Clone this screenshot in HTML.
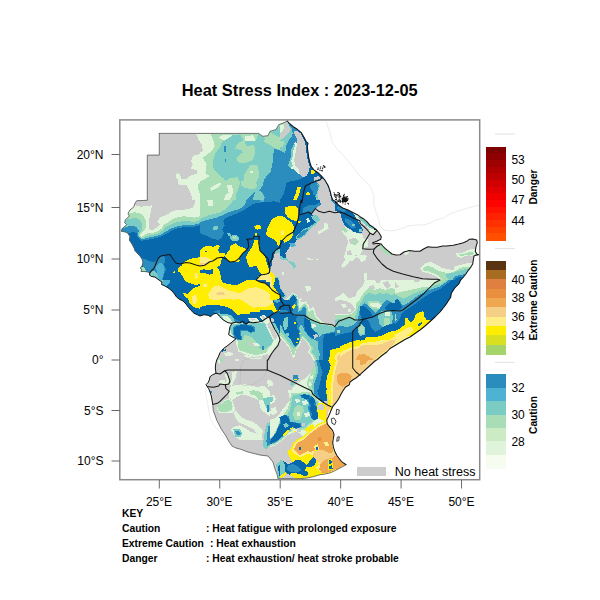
<!DOCTYPE html>
<html><head><meta charset="utf-8"><title>Heat Stress Index</title>
<style>
html,body{margin:0;padding:0;background:#fff;}
body{width:600px;height:600px;position:relative;overflow:hidden;font-family:"Liberation Sans",sans-serif;color:#000;}
</style></head><body>
<svg width="600" height="600" viewBox="0 0 600 600" style="position:absolute;left:0;top:0">
<defs><clipPath id="fr"><rect x="120" y="120" width="360" height="360"/></clipPath></defs>
<g clip-path="url(#fr)"><defs><clipPath id="land"><polygon points="159.3,133.4 258.7,133.4 262.7,136.3 268.0,135.7 270.0,131.3 276.0,129.6 278.7,124.7 284.0,122.7 287.3,121.0 290.0,124.0 293.3,126.7 297.3,129.3 301.3,132.7 304.0,137.3 306.0,141.3 308.0,143.3 307.3,146.7 308.0,152.0 308.7,157.3 310.0,162.7 311.3,166.7 314.0,170.0 318.7,173.3 322.0,176.7 325.3,180.7 328.0,185.3 330.0,190.7 331.3,196.0 332.7,200.0 335.3,201.3 338.7,205.3 342.7,208.0 348.0,210.0 353.3,212.7 357.3,214.7 360.0,216.7 363.3,218.7 366.7,221.3 370.0,225.3 373.3,227.3 376.7,230.0 379.3,233.3 381.3,236.7 380.7,239.3 376.7,241.3 372.7,242.7 373.3,244.0 377.3,243.3 381.3,244.0 382.7,246.0 385.3,248.7 388.7,251.3 392.0,254.0 396.0,255.0 400.0,254.7 404.0,252.0 409.3,250.4 414.7,251.3 420.0,251.3 424.0,248.7 428.0,246.7 432.0,247.3 437.3,247.3 442.7,246.0 446.7,246.0 453.3,245.3 458.7,244.0 463.3,242.7 466.7,241.3 469.3,239.3 472.7,238.9 476.7,240.0 477.3,242.7 476.0,246.7 475.3,251.3 476.7,254.0 478.7,254.7 476.0,255.3 474.0,256.0 473.3,260.0 472.7,264.0 470.7,267.3 468.0,270.7 465.3,274.7 462.7,278.0 460.7,280.0 458.7,284.0 454.7,288.0 451.3,293.3 450.7,297.3 448.0,301.3 447.0,303.0 444.0,307.0 440.0,312.0 435.0,317.0 430.0,321.5 425.0,326.0 420.0,330.0 415.0,333.5 410.0,337.0 405.0,339.5 400.0,342.5 395.0,345.5 390.0,348.5 386.7,352.0 381.3,356.0 377.3,359.5 375.0,361.0 360.0,374.7 356.0,378.0 352.7,380.0 350.0,382.0 349.3,384.7 345.3,387.3 342.7,391.3 340.7,394.7 338.7,398.7 336.0,402.7 332.7,406.7 330.7,411.3 328.7,416.0 326.7,420.0 327.3,424.0 330.0,427.3 332.7,430.7 334.0,434.7 333.3,438.7 332.7,442.7 333.3,446.7 334.7,451.3 336.7,455.3 339.3,458.7 341.3,461.3 344.0,463.3 346.0,464.7 342.7,466.7 338.7,468.7 334.7,470.7 330.7,472.7 325.3,474.0 320.0,474.7 313.3,476.7 306.7,478.0 300.0,478.7 294.7,478.7 288.0,478.7 278.0,478.7 277.0,474.0 275.0,469.0 273.0,462.0 268.0,456.0 260.0,455.0 248.0,452.0 240.0,449.0 236.0,448.0 232.0,446.0 228.0,440.0 226.0,436.0 223.3,432.0 220.7,428.0 218.7,424.0 216.7,420.0 215.3,416.0 213.3,410.7 212.7,404.0 212.0,400.0 211.3,396.0 210.0,392.0 208.7,388.7 207.3,386.7 206.0,384.7 208.0,382.7 209.3,380.0 210.0,376.7 212.7,374.7 216.0,373.3 215.3,368.0 215.7,364.0 216.7,360.0 218.7,356.0 220.0,352.7 223.3,348.7 228.0,345.3 232.0,342.0 236.0,338.7 232.0,336.7 228.7,334.7 229.3,330.7 230.0,326.7 232.0,323.3 228.0,322.7 223.3,320.0 220.0,316.7 216.7,313.3 213.3,314.0 210.7,316.7 208.0,315.3 204.0,314.7 200.0,316.0 197.3,314.7 194.0,313.3 190.7,310.0 188.5,307.5 186.0,304.0 183.0,301.0 179.0,299.0 176.5,297.0 174.5,294.0 172.0,291.0 169.0,288.5 165.0,286.0 161.5,284.5 162.0,282.0 159.0,280.0 155.0,277.0 151.5,276.5 149.5,275.0 150.0,272.5 145.0,271.5 141.0,271.5 141.5,269.5 140.5,268.0 142.5,265.0 143.0,262.0 142.0,259.0 140.0,256.0 137.0,253.0 134.5,250.0 134.7,249.3 132.0,244.0 129.3,240.0 130.0,236.7 128.0,233.3 125.3,232.0 121.3,231.3 122.0,228.7 126.7,224.7 124.7,222.7 125.3,220.0 129.3,216.0 128.0,213.3 130.0,210.0 134.0,206.7 134.7,204.0 136.7,200.7 147.3,200.3 147.3,155.1 159.3,155.1"/></clipPath><clipPath id="t0"><rect x="120" y="120" width="80" height="80"/></clipPath><clipPath id="t1"><rect x="200" y="120" width="80" height="80"/></clipPath><clipPath id="t2"><rect x="280" y="120" width="80" height="80"/></clipPath><clipPath id="t3"><rect x="120" y="200" width="80" height="80"/></clipPath><clipPath id="t4"><rect x="200" y="200" width="80" height="80"/></clipPath><clipPath id="t5"><rect x="280" y="200" width="80" height="80"/></clipPath><clipPath id="t6"><rect x="360" y="200" width="80" height="80"/></clipPath><clipPath id="t7"><rect x="400" y="200" width="80" height="80"/></clipPath><clipPath id="t8"><rect x="120" y="280" width="80" height="80"/></clipPath><clipPath id="t9"><rect x="200" y="280" width="80" height="80"/></clipPath><clipPath id="t10"><rect x="280" y="280" width="80" height="80"/></clipPath><clipPath id="t11"><rect x="360" y="280" width="80" height="80"/></clipPath><clipPath id="t12"><rect x="440" y="280" width="40" height="80"/></clipPath><clipPath id="t13"><rect x="200" y="360" width="80" height="80"/></clipPath><clipPath id="t14"><rect x="280" y="360" width="80" height="80"/></clipPath><clipPath id="t15"><rect x="360" y="360" width="80" height="80"/></clipPath><clipPath id="t16"><rect x="280" y="420" width="80" height="60"/></clipPath><clipPath id="t17"><rect x="200" y="440" width="80" height="40"/></clipPath><clipPath id="t18"><rect x="270" y="260" width="60" height="40"/></clipPath><clipPath id="t19"><rect x="280" y="300" width="60" height="60"/></clipPath><clipPath id="t20"><rect x="270" y="390" width="60" height="60"/></clipPath><clipPath id="t21"><rect x="220" y="310" width="60" height="60"/></clipPath><clipPath id="t22"><rect x="335" y="195" width="60" height="60"/></clipPath><clipPath id="t23"><rect x="335" y="280" width="60" height="60"/></clipPath></defs><polygon points="159.3,133.4 258.7,133.4 262.7,136.3 268.0,135.7 270.0,131.3 276.0,129.6 278.7,124.7 284.0,122.7 287.3,121.0 290.0,124.0 293.3,126.7 297.3,129.3 301.3,132.7 304.0,137.3 306.0,141.3 308.0,143.3 307.3,146.7 308.0,152.0 308.7,157.3 310.0,162.7 311.3,166.7 314.0,170.0 318.7,173.3 322.0,176.7 325.3,180.7 328.0,185.3 330.0,190.7 331.3,196.0 332.7,200.0 335.3,201.3 338.7,205.3 342.7,208.0 348.0,210.0 353.3,212.7 357.3,214.7 360.0,216.7 363.3,218.7 366.7,221.3 370.0,225.3 373.3,227.3 376.7,230.0 379.3,233.3 381.3,236.7 380.7,239.3 376.7,241.3 372.7,242.7 373.3,244.0 377.3,243.3 381.3,244.0 382.7,246.0 385.3,248.7 388.7,251.3 392.0,254.0 396.0,255.0 400.0,254.7 404.0,252.0 409.3,250.4 414.7,251.3 420.0,251.3 424.0,248.7 428.0,246.7 432.0,247.3 437.3,247.3 442.7,246.0 446.7,246.0 453.3,245.3 458.7,244.0 463.3,242.7 466.7,241.3 469.3,239.3 472.7,238.9 476.7,240.0 477.3,242.7 476.0,246.7 475.3,251.3 476.7,254.0 478.7,254.7 476.0,255.3 474.0,256.0 473.3,260.0 472.7,264.0 470.7,267.3 468.0,270.7 465.3,274.7 462.7,278.0 460.7,280.0 458.7,284.0 454.7,288.0 451.3,293.3 450.7,297.3 448.0,301.3 447.0,303.0 444.0,307.0 440.0,312.0 435.0,317.0 430.0,321.5 425.0,326.0 420.0,330.0 415.0,333.5 410.0,337.0 405.0,339.5 400.0,342.5 395.0,345.5 390.0,348.5 386.7,352.0 381.3,356.0 377.3,359.5 375.0,361.0 360.0,374.7 356.0,378.0 352.7,380.0 350.0,382.0 349.3,384.7 345.3,387.3 342.7,391.3 340.7,394.7 338.7,398.7 336.0,402.7 332.7,406.7 330.7,411.3 328.7,416.0 326.7,420.0 327.3,424.0 330.0,427.3 332.7,430.7 334.0,434.7 333.3,438.7 332.7,442.7 333.3,446.7 334.7,451.3 336.7,455.3 339.3,458.7 341.3,461.3 344.0,463.3 346.0,464.7 342.7,466.7 338.7,468.7 334.7,470.7 330.7,472.7 325.3,474.0 320.0,474.7 313.3,476.7 306.7,478.0 300.0,478.7 294.7,478.7 288.0,478.7 278.0,478.7 277.0,474.0 275.0,469.0 273.0,462.0 268.0,456.0 260.0,455.0 248.0,452.0 240.0,449.0 236.0,448.0 232.0,446.0 228.0,440.0 226.0,436.0 223.3,432.0 220.7,428.0 218.7,424.0 216.7,420.0 215.3,416.0 213.3,410.7 212.7,404.0 212.0,400.0 211.3,396.0 210.0,392.0 208.7,388.7 207.3,386.7 206.0,384.7 208.0,382.7 209.3,380.0 210.0,376.7 212.7,374.7 216.0,373.3 215.3,368.0 215.7,364.0 216.7,360.0 218.7,356.0 220.0,352.7 223.3,348.7 228.0,345.3 232.0,342.0 236.0,338.7 232.0,336.7 228.7,334.7 229.3,330.7 230.0,326.7 232.0,323.3 228.0,322.7 223.3,320.0 220.0,316.7 216.7,313.3 213.3,314.0 210.7,316.7 208.0,315.3 204.0,314.7 200.0,316.0 197.3,314.7 194.0,313.3 190.7,310.0 188.5,307.5 186.0,304.0 183.0,301.0 179.0,299.0 176.5,297.0 174.5,294.0 172.0,291.0 169.0,288.5 165.0,286.0 161.5,284.5 162.0,282.0 159.0,280.0 155.0,277.0 151.5,276.5 149.5,275.0 150.0,272.5 145.0,271.5 141.0,271.5 141.5,269.5 140.5,268.0 142.5,265.0 143.0,262.0 142.0,259.0 140.0,256.0 137.0,253.0 134.5,250.0 134.7,249.3 132.0,244.0 129.3,240.0 130.0,236.7 128.0,233.3 125.3,232.0 121.3,231.3 122.0,228.7 126.7,224.7 124.7,222.7 125.3,220.0 129.3,216.0 128.0,213.3 130.0,210.0 134.0,206.7 134.7,204.0 136.7,200.7 147.3,200.3 147.3,155.1 159.3,155.1" fill="#cccccc" /><g clip-path="url(#land)"><g clip-path="url(#t0)" shape-rendering="crispEdges"><polygon points="196.0,133.3 200.0,133.3 200.0,142.0 198.7,140.0" fill="#e0f3db" /><polygon points="200.0,154.0 194.7,155.3 192.0,158.0 191.3,161.3 192.7,164.7 190.7,168.7 196.7,170.0 197.1,173.3 189.3,176.0 186.7,178.7 181.3,178.7 180.0,174.0 176.7,173.3 176.0,176.7 178.0,180.0 178.7,185.3 186.7,185.3 189.3,190.7 191.3,194.7 192.0,200.0 200.0,200.0" fill="#e0f3db" /><polygon points="198.0,184.0 200.0,182.7 200.0,193.3 198.7,192.7" fill="#a8ddb5" /></g><g clip-path="url(#t1)" shape-rendering="crispEdges"><rect x="200" y="120" width="80" height="80" fill="#a8ddb5"/><polygon points="200.0,133.3 210.7,133.3 212.7,138.7 214.7,145.3 212.0,150.7 206.7,154.7 202.7,158.0 206.7,164.0 205.3,173.3 209.3,176.0 205.3,178.7 200.0,181.3" fill="#e0f3db" /><polygon points="200.0,143.3 202.0,144.0 202.7,150.7 200.0,152.7" fill="#cccccc" /><polygon points="218.7,137.3 223.3,134.7 232.0,135.3 230.7,138.7 222.7,140.0" fill="#e0f3db" /><polygon points="245.3,136.0 253.3,135.3 255.3,140.0 252.7,144.0 246.7,146.7 244.7,142.7" fill="#e0f3db" /><polygon points="210.0,188.0 214.7,185.3 220.0,182.7 221.3,184.7 216.0,188.7 211.3,190.7" fill="#e0f3db" /><polygon points="226.7,185.3 232.0,184.7 233.3,192.0 231.3,197.3 229.3,200.0 224.0,200.0 225.3,194.7 228.7,192.7" fill="#e0f3db" /><polygon points="220.0,147.3 222.0,142.0 226.0,139.7 232.7,135.3 240.0,134.4 242.9,138.7 244.7,141.3 256.0,141.3 257.3,136.0 258.9,133.7 262.7,136.7 265.3,138.7 264.0,142.0 269.3,144.7 274.7,148.0 280.0,150.0 280.0,200.0 236.0,200.0 236.0,194.7 238.7,188.0 240.0,182.7 238.0,177.3 233.3,177.6 228.7,178.7 225.3,181.3 224.0,178.7 220.0,176.0 216.0,172.0 212.7,166.7 213.3,160.0 215.3,153.3" fill="#7bccc4" /><polygon points="270.0,132.7 276.0,130.0 280.0,125.3 280.0,138.0 274.7,134.7 271.3,136.7" fill="#7bccc4" /><polygon points="236.0,145.3 240.0,142.0 244.0,140.0 246.7,146.7 253.3,144.7 255.3,148.0 255.3,153.3 252.7,160.0 246.7,162.7 239.3,162.7 236.0,158.7 238.7,155.3 242.7,152.7 241.3,150.0 235.3,148.7" fill="#a8ddb5" /><polygon points="250.0,165.3 257.3,164.7 258.7,170.7 258.7,177.3 256.0,182.7 257.3,186.7 253.3,189.3 245.3,188.0 240.7,185.3 241.3,181.3 244.7,179.3 243.3,176.0 246.0,172.0" fill="#a8ddb5" /><polygon points="250.0,171.3 252.7,171.3 252.7,173.1 250.0,173.1" fill="#e0f3db" /><polygon points="265.3,138.0 270.0,132.7 274.7,134.7 280.0,137.3 280.0,143.3 276.0,144.7 274.7,147.3 269.3,144.7 264.0,142.0" fill="#a8ddb5" /><polygon points="274.7,148.7 280.0,150.7 280.0,200.0 264.0,200.0 264.7,197.3 262.7,192.7 258.7,190.0 260.0,189.3 262.7,185.3 264.0,180.0 266.7,176.0 270.7,172.0 272.0,165.3 273.3,160.0 273.3,153.3" fill="#2b8cbe" /><polygon points="246.7,200.0 249.3,196.7 253.3,193.3 256.0,191.3 254.0,194.7 252.7,200.0" fill="#2b8cbe" /><polygon points="224.4,146.0 225.6,146.0 225.6,152.0 224.4,152.0" fill="#2b8cbe" /><polygon points="224.8,158.9 225.9,158.9 225.9,162.0 224.8,162.0" fill="#2b8cbe" /></g><g clip-path="url(#t2)" shape-rendering="crispEdges"><rect x="280" y="120" width="80" height="80" fill="#2b8cbe"/><polygon points="280.0,120.0 288.0,120.0 285.3,126.0 284.0,129.3 282.7,132.7 280.0,134.7" fill="#a8ddb5" /><polygon points="280.0,125.3 283.3,124.0 284.0,128.0 282.0,132.0 280.0,132.7" fill="#e0f3db" /><polygon points="284.0,123.3 287.3,122.0 289.3,125.3 290.7,130.0 288.7,133.3 286.7,135.3 282.7,138.7 280.0,140.0 280.0,134.7 282.7,132.7 284.0,129.3 285.3,126.0" fill="#cccccc" /><polygon points="280.0,140.0 282.7,138.7 286.7,135.3 288.7,133.3 290.7,130.0 289.3,126.0 292.0,128.0 292.7,133.3 291.3,137.3 288.0,141.3 286.0,146.7 285.3,153.3 282.7,152.0 280.0,150.7" fill="#7bccc4" /><polygon points="280.0,141.3 283.3,140.7 284.7,143.3 282.7,146.7 280.0,147.3" fill="#a8ddb5" /><polygon points="294.0,130.7 297.3,131.3 301.3,134.0 303.3,138.0 305.3,142.0 306.0,146.7 306.7,152.0 307.3,157.3 308.7,162.7 310.0,166.7 308.7,171.3 306.7,176.0 303.3,177.3 300.0,174.7 298.7,169.3 295.3,165.3 294.0,160.0 295.3,154.7 296.0,149.3 297.3,144.0 296.7,138.7 294.7,134.7" fill="#cccccc" /><polygon points="297.3,144.0 296.0,149.3 295.3,154.7 294.0,160.0 295.3,165.3 298.7,169.3 300.0,174.7 297.3,173.3 293.3,169.3 290.0,168.0 288.0,165.3 290.0,160.0 291.3,154.7 290.7,150.7 292.7,146.7 294.0,143.3 295.7,142.4" fill="#e0f3db" /><polygon points="292.7,146.7 294.0,143.7 294.9,144.7 294.7,146.7 293.3,150.7 292.7,156.0 291.3,161.3 292.7,166.0 290.0,168.0 288.0,165.3 290.0,160.0 291.3,154.7 290.7,150.7" fill="#7bccc4" /><polygon points="301.3,132.7 304.0,137.3 306.0,141.3 308.0,143.3 307.3,146.7 308.0,152.0 308.7,157.3 310.0,162.7 312.0,166.7 310.0,166.9 308.4,162.7 307.1,157.3 306.4,152.0 305.7,146.7 305.1,142.0 303.1,138.0 301.1,134.0" fill="#0868ac" /><polygon points="280.0,200.0 282.0,197.3 284.0,192.9 286.9,182.0 294.0,180.9 300.0,179.3 303.3,177.3 306.7,176.0 308.7,171.3 310.0,166.7 312.0,166.7 314.0,170.0 318.7,173.3 322.0,176.7 320.0,179.3 316.0,180.7 311.3,183.3 310.0,186.7 312.0,190.7 314.7,194.7 317.3,200.0 280.0,200.0" fill="#0868ac" /><polygon points="316.0,181.3 320.0,179.7 323.3,178.7 326.0,182.7 328.0,186.7 329.6,192.0 330.9,197.3 331.3,200.0 318.7,200.0 317.3,194.7 318.7,189.3 320.0,185.3 318.0,183.3" fill="#cccccc" /><polygon points="313.3,177.6 318.7,176.0 320.7,178.7 316.7,180.0 314.0,180.7" fill="#cccccc" /><polygon points="312.0,185.3 316.7,184.0 318.7,186.7 317.3,192.0 316.0,196.0 313.3,194.7 312.0,189.3" fill="#2b8cbe" /><polygon points="316.7,184.0 320.0,185.3 318.7,189.3 317.3,194.7 318.7,200.0 316.0,200.0 315.3,196.0 317.3,192.0 318.7,186.7" fill="#7bccc4" /><polygon points="322.0,176.7 325.3,180.7 328.0,185.3 330.0,190.7 331.3,196.0 332.7,200.0 331.3,200.0 329.6,192.0 328.0,186.7 326.0,182.7 323.3,178.7" fill="#2b8cbe" /><polygon points="310.9,170.4 314.0,170.4 314.9,172.3 313.1,174.4 310.9,173.6" fill="#ffee00" /><polygon points="297.3,187.3 300.7,187.3 300.0,192.0 298.0,196.7 296.7,200.0 293.3,200.0 294.0,197.3 295.7,193.3" fill="#ffee00" /><polygon points="306.0,192.7 309.3,192.0 310.0,194.7 306.7,195.7" fill="#ffee00" /></g><g clip-path="url(#t3)" shape-rendering="crispEdges"><polygon points="133.3,202.7 136.7,206.0 141.3,206.7 148.7,206.0 152.0,205.3 151.3,209.3 150.0,216.0 148.7,222.7 148.7,228.7 152.0,230.7 156.0,228.0 160.0,224.7 157.3,221.3 160.0,217.3 166.7,214.7 173.3,210.7 180.0,210.0 186.7,209.3 192.7,208.0 194.7,204.0 195.3,200.0 200.0,200.0 200.0,280.0 120.0,280.0 120.0,206.7" fill="#e0f3db" /><polygon points="120.0,214.7 128.0,213.3 134.7,212.3 138.7,212.9 142.7,214.9 145.3,218.9 146.0,224.3 145.3,229.6 142.7,232.3 140.0,234.9 141.3,236.9 144.0,235.6 146.7,233.6 152.0,232.9 157.3,231.6 161.3,228.9 164.0,224.3 169.3,221.6 173.3,218.9 178.7,216.9 184.0,216.3 189.3,216.9 194.7,217.6 200.0,216.3 200.0,280.0 120.0,280.0" fill="#a8ddb5" /><polygon points="120.0,221.3 125.3,220.0 130.7,218.7 136.0,218.0 140.0,220.0 142.0,224.0 142.0,228.7 140.0,232.7 138.7,236.7 142.0,238.7 146.7,236.0 153.3,234.7 158.7,233.3 162.7,230.7 166.0,226.7 172.0,224.0 177.3,222.0 182.7,221.3 189.3,221.3 194.7,222.0 200.0,220.0 200.0,280.0 120.0,280.0" fill="#7bccc4" /><polygon points="120.0,229.3 122.0,228.7 126.7,226.7 132.0,226.0 136.0,226.7 138.7,230.7 138.0,236.0 141.3,239.3 146.7,238.0 153.3,236.7 160.0,234.9 165.3,232.0 170.7,228.7 176.0,226.7 182.7,225.3 189.3,225.3 194.7,224.7 200.0,223.3 200.0,280.0 120.0,280.0" fill="#2b8cbe" /><polygon points="120.0,234.7 128.0,233.3 133.3,232.0 136.7,233.3 137.3,237.3 141.3,240.7 146.7,240.0 153.3,238.7 160.0,237.1 165.3,234.4 170.7,231.3 176.0,228.7 182.7,227.3 189.3,227.3 194.7,226.7 200.0,225.3 200.0,280.0 120.0,280.0" fill="#0868ac" /><polygon points="140.0,257.3 144.0,258.7 148.7,261.1 154.0,262.0 158.0,258.7 155.3,264.0 152.7,269.3 150.0,272.7 142.0,271.6 141.3,269.3 143.3,266.7 142.7,262.7" fill="#2b8cbe" /><polygon points="140.7,267.3 144.0,266.7 146.7,272.0 141.3,271.6" fill="#a8ddb5" /><polygon points="150.0,272.7 152.7,269.3 155.3,264.0 158.0,258.7 160.7,256.0 164.0,255.7 165.3,260.0 164.0,265.3 166.0,269.3 164.0,274.7 162.7,280.0 152.0,280.0 149.3,276.0" fill="#2b8cbe" /><polygon points="156.0,266.7 160.0,262.7 162.7,264.0 164.7,269.3 163.3,274.7 162.0,280.0 158.0,280.0 157.3,274.7" fill="#4eb3d3" /><polygon points="150.0,273.1 153.3,270.7 156.0,272.0 158.0,276.0 159.3,280.0 152.0,280.0 149.3,276.3" fill="#7bccc4" /><polygon points="182.7,263.3 186.7,260.7 190.7,258.7 194.7,258.0 200.0,257.3 200.0,280.0 184.0,280.0 182.7,276.0 180.0,272.7 177.3,271.3 178.7,267.3 181.3,266.0" fill="#ffee00" /><polygon points="172.7,272.0 174.7,271.3 174.9,273.1 173.1,273.6" fill="#ffee00" /><polygon points="194.7,273.3 197.3,272.7 198.0,277.3 195.3,278.7" fill="#ffee88" /></g><g clip-path="url(#t4)" shape-rendering="crispEdges"><rect x="200" y="200" width="80" height="80" fill="#0868ac"/><polygon points="200.0,200.0 280.0,200.0 280.0,202.7 274.7,201.3 266.7,202.0 258.7,202.7 253.3,204.0 248.7,206.7 244.0,210.0 237.3,213.3 230.7,216.0 225.3,218.0 223.3,221.3 224.7,225.3 222.0,229.3 224.0,233.3 222.0,237.3 218.7,240.0 212.0,238.7 205.3,235.3 200.0,233.3" fill="#2b8cbe" /><polygon points="200.0,200.0 246.0,200.0 245.3,204.0 242.7,207.3 238.7,209.3 233.3,210.7 228.0,212.7 222.7,215.3 217.3,217.3 212.0,218.7 206.7,220.0 202.7,221.3 200.0,222.0" fill="#7bccc4" /><polygon points="200.0,200.0 233.3,200.0 230.7,204.0 226.7,208.0 221.3,212.0 214.7,214.0 208.0,215.3 204.0,217.3 200.0,218.7" fill="#a8ddb5" /><polygon points="207.3,200.0 213.3,200.0 213.3,206.0 208.0,206.0" fill="#e0f3db" /><polygon points="260.0,200.0 264.7,200.0 264.0,201.6 260.7,201.6" fill="#4eb3d3" /><polygon points="212.7,226.7 217.3,226.0 218.7,229.3 213.3,230.0" fill="#7bccc4" /><polygon points="227.3,233.3 230.0,232.7 231.3,235.3 228.7,236.0" fill="#7bccc4" /><polygon points="230.0,236.0 236.0,234.7 239.3,238.0 238.0,240.7 232.0,240.7 230.0,238.7" fill="#7bccc4" /><polygon points="232.0,236.7 235.3,236.0 236.7,238.7 233.3,239.3" fill="#a8ddb5" /><polygon points="280.0,249.3 276.7,251.3 274.0,254.7 273.3,259.3 272.0,263.3 271.3,268.0 272.7,272.7 275.3,276.7 280.0,278.7" fill="#cccccc" /><polygon points="274.7,250.7 280.0,248.3 280.0,253.3 276.0,253.6" fill="#7bccc4" /><polygon points="272.7,218.7 276.0,216.7 280.0,216.0 280.0,245.3 278.0,246.0 276.0,241.3 272.7,238.7 268.7,236.7 266.0,234.7 266.7,230.7 268.0,226.7 270.0,222.7" fill="#ffee00" /><polygon points="254.4,226.0 257.3,225.3 260.7,225.6 260.7,228.7 257.3,229.6 254.7,229.1" fill="#ffee00" /><polygon points="255.3,233.3 257.3,233.3 257.3,236.0 255.3,236.0" fill="#ffee00" /><polygon points="230.0,246.0 235.3,243.3 238.7,246.0 244.0,248.0 247.3,250.0 242.7,253.3 238.7,258.7 240.0,261.3 235.3,262.0 230.0,262.4 227.3,259.3 224.7,256.0 227.3,252.7 230.0,250.0" fill="#ffee00" /><polygon points="254.0,240.0 258.7,240.0 259.3,244.0 260.3,250.7 264.0,254.7 266.0,258.7 266.7,262.7 269.3,270.7 269.3,272.7 266.7,274.0 262.7,274.7 260.0,272.7 258.0,269.3 256.0,265.3 252.7,266.7 249.3,267.3 247.3,262.7 246.0,257.3 248.0,252.7 251.3,248.0 253.3,244.0" fill="#ffee00" /><polygon points="200.0,250.0 204.0,246.7 208.0,246.0 213.3,246.7 216.7,245.3 218.7,244.7 220.0,246.7 217.3,250.0 220.0,253.3 224.7,252.7 225.3,256.0 222.0,257.6 221.3,261.3 220.0,265.3 216.0,267.3 212.0,269.3 208.0,270.0 204.0,269.3 200.0,270.0" fill="#ffee00" /><polygon points="200.0,272.7 205.3,273.3 209.3,274.7 213.3,274.0 213.3,268.0 217.3,267.3 220.0,272.0 221.3,280.0 200.0,280.0" fill="#ffee00" /><polygon points="205.3,250.7 207.3,250.7 207.3,252.3 205.3,252.3" fill="#0868ac" /><polygon points="200.0,257.3 205.3,256.7 209.3,258.7 213.3,260.3 209.3,262.0 204.7,265.3 200.0,266.0" fill="#ffee88" /><polygon points="200.0,262.7 204.0,262.7 206.7,264.0 204.0,266.0 200.0,266.7" fill="#f5cf85" /><polygon points="258.7,276.0 264.0,274.7 269.3,273.3 272.7,276.7 274.7,280.0 256.7,280.0" fill="#ffee88" /></g><g clip-path="url(#t5)" shape-rendering="crispEdges"><polygon points="280.0,200.0 320.0,200.0 320.7,204.0 318.0,206.0 315.3,208.7 312.0,213.3 313.3,217.3 316.7,218.7 318.0,221.3 313.3,224.0 310.0,226.7 306.7,228.0 303.3,229.3 300.0,232.0 296.0,236.0 296.7,240.0 294.0,244.0 290.7,246.0 288.0,249.3 285.3,253.3 286.0,257.3 284.0,258.7 281.3,256.0 280.0,256.7" fill="#0868ac" /><polygon points="303.3,208.0 308.7,205.3 314.7,205.3 320.0,202.7 320.7,204.7 315.3,208.7 311.3,214.0 308.7,212.3 304.7,213.6 302.7,212.0" fill="#2b8cbe" /><polygon points="300.0,232.0 303.3,229.3 306.7,228.0 310.0,226.7 313.3,224.0 318.0,221.3 316.0,224.7 312.0,227.3 308.7,230.7 306.0,234.7 302.0,237.3 298.7,240.0 296.7,240.0 296.0,236.0" fill="#7bccc4" /><polygon points="300.0,232.7 303.3,230.4 306.7,229.1 308.7,228.7 307.3,231.3 304.7,234.4 301.3,236.7 298.0,238.7 297.1,236.7" fill="#2b8cbe" /><polygon points="306.0,218.7 308.7,218.0 310.0,221.3 307.3,222.7" fill="#e0f3db" /><polygon points="311.3,216.0 316.0,214.7 318.7,217.3 320.0,220.7 316.0,222.0 312.7,220.0" fill="#7bccc4" /><polygon points="280.0,256.7 281.3,256.0 284.0,258.7 286.0,257.3 288.0,259.3 292.0,261.3 293.3,264.0 296.7,264.0 296.0,266.7 292.7,266.0 289.3,262.7 285.3,260.7 282.7,260.0 280.0,258.7" fill="#7bccc4" /><polygon points="280.7,272.0 283.3,272.0 283.3,274.7 280.7,274.7" fill="#e0f3db" /><polygon points="289.3,243.3 294.7,242.7 296.0,246.0 291.3,247.3" fill="#4eb3d3" /><polygon points="285.3,206.7 296.0,206.0 298.0,209.3 298.0,220.0 296.0,221.3 292.0,220.0 288.0,217.3 284.7,213.3" fill="#ffee00" /><polygon points="280.0,216.0 284.0,216.7 288.0,220.0 292.0,222.7 294.0,226.7 293.3,231.3 289.3,234.0 285.3,237.3 282.7,240.0 280.0,240.0" fill="#ffee00" /><polygon points="286.7,236.0 292.0,232.7 293.3,234.7 291.3,238.0 288.0,241.3 284.0,242.7 283.3,240.0" fill="#ffee00" /><polygon points="297.3,220.7 301.3,221.3 298.7,223.3" fill="#ffee00" /><polygon points="281.3,230.7 283.3,230.0 284.0,234.7 281.3,235.3" fill="#ffee88" /><polygon points="340.7,208.7 342.7,208.0 348.0,210.0 353.3,212.7 357.3,214.7 360.0,216.7 360.0,230.0 356.7,231.3 352.7,230.7 349.3,228.0 346.0,225.3 343.3,220.0 344.0,214.7 342.0,212.0" fill="#0868ac" /><polygon points="346.7,220.0 350.7,218.7 354.7,221.3 356.0,226.0 352.7,228.0 348.7,225.3" fill="#2b8cbe" /><polygon points="330.0,200.0 332.7,200.0 335.3,201.3 338.7,205.3 342.7,208.0 340.7,208.7 337.3,206.7 334.0,203.3" fill="#2b8cbe" /><polygon points="349.3,236.0 354.7,234.7 360.0,236.0 360.0,244.0 357.3,245.3 360.0,248.0 360.0,258.7 356.0,257.3 352.7,260.7 349.3,261.3 346.7,265.3 342.7,268.0 341.3,265.3 345.3,260.0 344.0,256.0 346.0,250.7 346.7,245.3 349.3,241.3" fill="#e0f3db" /><polygon points="348.0,250.7 351.3,250.0 352.0,253.3 348.7,254.0" fill="#cccccc" /><polygon points="354.7,252.7 357.3,252.7 357.3,256.0 354.7,256.0" fill="#cccccc" /><polygon points="352.0,241.3 357.3,240.0 356.7,245.3 352.7,246.0" fill="#a8ddb5" /><polygon points="342.0,230.0 346.0,229.3 346.7,232.7 342.7,233.3" fill="#a8ddb5" /><polygon points="324.0,223.3 327.3,222.7 328.7,228.7 325.3,230.0 322.7,232.0 318.7,234.0 317.3,232.0 321.3,230.0 324.0,227.3" fill="#e0f3db" /><polygon points="306.7,258.0 310.7,258.7 314.7,260.0 320.0,258.0 317.3,260.7 312.0,261.6 308.7,260.7" fill="#e0f3db" /></g><g clip-path="url(#t6)" shape-rendering="crispEdges"><polygon points="360.0,217.3 363.3,218.9 366.0,221.3 366.7,225.3 364.0,226.7 360.0,224.0" fill="#2b8cbe" /><polygon points="360.0,218.0 362.7,219.3 364.7,222.0 363.3,224.0 360.0,222.7" fill="#0868ac" /><polygon points="360.0,228.0 362.0,228.7 362.7,232.0 360.0,233.3" fill="#2b8cbe" /><polygon points="366.0,221.3 370.0,225.3 373.3,227.3 376.7,230.0 374.7,231.3 371.3,230.0 368.0,227.3 366.7,225.3" fill="#7bccc4" /><polygon points="360.0,234.7 364.0,234.0 366.7,236.7 365.3,240.0 362.7,241.3 360.0,240.0" fill="#e0f3db" /><polygon points="362.7,244.0 368.0,245.3 366.7,248.7 362.7,248.3" fill="#e0f3db" /><polygon points="360.0,252.0 364.0,252.7 366.7,256.7 365.3,260.7 361.3,262.0 360.0,260.0" fill="#e0f3db" /><polygon points="364.0,273.3 366.7,273.3 366.7,280.0 364.0,280.0" fill="#e0f3db" /><polygon points="380.0,244.7 382.7,246.0 385.3,248.7 388.7,251.3 392.0,254.0 390.0,255.3 386.0,254.0 382.0,251.3 378.7,248.7 378.0,246.0" fill="#a8ddb5" /><polygon points="404.0,252.9 408.0,250.9 410.0,252.0 407.3,254.7 404.7,254.9" fill="#e0f3db" /><polygon points="421.3,268.0 425.3,264.0 430.7,262.0 434.7,264.0 440.0,266.7 440.0,276.0 436.0,274.7 430.7,272.7 425.3,272.7 422.0,271.3" fill="#e0f3db" /><polygon points="424.0,268.7 428.0,266.0 432.0,266.7 436.0,269.3 440.0,270.7 440.0,274.0 434.7,272.7 429.3,270.7 425.3,270.7" fill="#a8ddb5" /></g><g clip-path="url(#t7)" shape-rendering="crispEdges"><polygon points="420.0,268.0 424.0,264.0 428.7,262.0 433.3,263.3 437.3,266.7 442.7,268.0 448.0,269.3 453.3,270.0 454.7,266.7 458.7,265.3 464.0,264.0 468.0,262.7 474.7,264.0 468.0,270.7 465.3,274.7 462.7,278.0 460.7,280.0 441.3,280.0 437.3,277.3 432.0,274.7 426.7,272.7 422.0,271.3" fill="#e0f3db" /><polygon points="422.7,268.7 426.7,266.0 431.3,266.7 435.3,269.3 440.0,271.3 445.3,272.7 450.7,272.7 456.0,270.7 460.0,268.0 465.3,266.7 472.0,267.3 466.7,272.7 464.0,276.0 461.3,280.0 442.7,280.0 438.7,276.0 433.3,273.3 428.0,271.3 424.0,270.7" fill="#a8ddb5" /><polygon points="445.3,274.0 450.7,273.3 456.0,272.0 461.3,270.0 469.3,268.7 466.7,272.7 464.0,276.0 461.3,280.0 449.3,280.0 446.7,277.3" fill="#7bccc4" /><polygon points="452.7,278.0 456.0,276.0 461.3,274.7 466.7,274.0 462.7,278.0 460.7,280.0 453.3,280.0" fill="#2b8cbe" /><polygon points="454.7,279.3 458.7,277.3 463.3,276.7 461.3,280.0 454.7,280.0" fill="#0868ac" /><polygon points="456.0,253.3 462.7,252.7 468.0,250.0 472.0,248.7 476.0,249.3 476.0,253.3 472.7,256.0 469.3,255.3 465.3,256.0 461.3,258.0 457.3,256.7" fill="#e0f3db" /><polygon points="458.7,254.0 464.0,254.0 469.3,252.0 474.0,252.7 473.3,254.7 466.7,254.9 461.3,256.3" fill="#a8ddb5" /></g><g clip-path="url(#t8)" shape-rendering="crispEdges"><rect x="120" y="280" width="80" height="80" fill="#0868ac"/><polygon points="159.3,280.0 170.0,280.0 169.3,284.0 166.0,286.0 162.7,285.3 162.0,282.7" fill="#4eb3d3" /><polygon points="158.7,280.0 162.9,280.0 162.9,284.3 161.6,282.7" fill="#7bccc4" /><polygon points="184.0,280.0 200.0,280.0 200.0,283.3 196.7,285.3 192.0,284.0 186.7,282.0" fill="#ffee00" /><polygon points="182.7,293.3 185.3,292.7 186.7,294.7 189.3,292.0 192.7,288.7 197.3,286.7 200.0,286.0 200.0,308.7 196.0,308.0 192.0,306.0 189.3,302.7 188.0,298.7 185.3,296.7" fill="#ffee00" /><polygon points="192.0,296.0 196.0,294.7 197.3,300.0 195.3,304.7 192.7,303.3" fill="#ffee88" /></g><g clip-path="url(#t9)" shape-rendering="crispEdges"><rect x="200" y="280" width="80" height="80" fill="#0868ac"/><polygon points="232.0,324.0 240.0,322.9 246.0,324.3 253.3,322.9 262.7,320.9 269.3,316.9 280.0,320.0 280.0,360.0 216.7,360.0 220.0,352.7 228.0,345.3 236.0,338.7 228.7,334.7 230.0,326.7" fill="#cccccc" /><polygon points="213.3,311.3 218.7,310.0 224.0,310.7 229.3,312.7 233.3,315.3 234.7,320.0 232.0,323.3 228.0,322.7 223.3,320.0 220.0,316.7 216.7,313.3" fill="#2b8cbe" /><polygon points="217.3,313.3 221.3,312.7 226.7,314.7 230.7,317.3 232.0,321.3 228.7,322.4 224.0,319.7 220.7,316.3" fill="#7bccc4" /><polygon points="244.0,320.0 248.0,317.3 253.3,316.0 258.7,315.3 264.0,316.0 266.7,318.0 262.7,320.7 258.7,322.0 253.3,322.7 249.3,322.0 246.0,324.0" fill="#a8ddb5" /><polygon points="250.7,318.7 256.0,318.0 257.3,320.0 252.0,321.1" fill="#e0f3db" /><polygon points="240.0,318.0 244.7,316.0 246.0,319.3 243.3,322.0 240.0,322.4" fill="#2b8cbe" /><polygon points="200.0,280.0 221.3,280.0 222.7,282.7 228.0,284.0 236.0,285.6 242.7,282.4 246.7,280.0 256.0,280.0 260.0,282.0 265.3,283.3 269.3,286.7 272.0,290.0 273.3,293.3 272.7,297.3 273.3,302.7 274.7,306.7 276.7,310.0 272.7,311.3 266.7,310.7 261.3,310.0 256.0,312.0 250.7,311.3 248.0,314.0 242.7,312.7 238.7,314.7 236.0,313.3 233.3,310.0 229.3,308.0 224.0,306.0 218.7,305.3 213.3,304.7 208.0,305.3 202.7,306.0 200.0,307.3" fill="#ffee00" /><polygon points="276.7,310.0 280.0,309.3 280.0,312.7 277.3,312.7" fill="#ffee00" /><polygon points="208.0,294.7 210.7,290.7 213.3,286.7 218.7,285.3 224.0,288.0 229.3,290.7 234.7,292.0 240.0,293.3 244.0,290.7 249.3,288.0 256.0,287.3 262.7,289.3 269.3,293.3 272.0,297.3 272.7,302.7 269.3,306.0 264.0,307.3 258.7,306.7 253.3,308.0 249.3,305.3 245.3,302.7 241.3,300.0 237.3,298.7 233.3,300.0 229.3,298.7 224.0,298.7 218.7,300.0 213.3,300.0 209.3,298.7" fill="#ffee88" /><polygon points="216.0,292.7 224.0,292.0 224.7,294.7 217.3,294.9" fill="#f5cf85" /><polygon points="202.7,284.0 206.7,283.3 207.3,286.7 203.3,287.3" fill="#ffee88" /><polygon points="265.3,280.0 272.0,280.0 273.3,282.7 266.7,282.0" fill="#ffee88" /><polygon points="274.0,297.3 280.0,296.0 280.0,301.3 276.7,303.3 274.0,301.3" fill="#4eb3d3" /><polygon points="232.7,324.0 240.0,322.9 246.0,324.3 253.3,322.9 262.7,320.9 269.3,316.9 270.7,321.3 272.7,325.3 274.7,329.3 277.3,333.3 279.3,337.3 278.7,342.7 274.7,346.7 269.3,349.3 264.0,353.3 256.0,354.7 248.0,356.0 242.7,352.7 238.7,348.0 237.3,342.7 236.0,338.7 232.0,336.7 228.7,334.7 229.6,329.3" fill="#e0f3db" /><polygon points="233.3,325.3 240.0,324.0 246.0,325.3 253.3,324.0 261.3,322.7 266.7,321.3 269.3,325.3 272.0,330.7 274.7,336.0 274.7,341.3 270.7,345.3 265.3,349.3 258.7,352.0 250.7,352.7 244.0,350.7 240.0,346.7 238.7,341.3 240.0,337.3 237.3,333.3 234.7,329.3" fill="#a8ddb5" /><polygon points="234.0,326.0 240.0,324.7 245.3,326.0 252.0,325.3 257.3,326.7 260.0,330.7 257.3,333.3 253.3,332.0 249.3,329.3 244.0,329.3 240.0,332.0 241.3,336.0 242.7,339.3 238.7,340.0 236.0,336.0 234.4,331.3" fill="#7bccc4" /><polygon points="234.4,326.0 238.7,325.3 240.0,328.0 238.7,331.3 240.7,334.7 242.4,338.7 239.3,339.7 236.7,336.7 234.9,332.0" fill="#0868ac" /><polygon points="244.0,324.7 246.0,324.3 250.7,325.3 253.3,327.3 256.0,330.0 252.7,331.3 249.3,328.7 245.3,328.0" fill="#0868ac" /><polygon points="260.7,344.0 263.3,343.3 264.0,348.0 261.6,348.7" fill="#2b8cbe" /><polygon points="248.0,343.3 258.7,342.0 260.0,344.7 253.3,346.0 248.7,345.6" fill="#cccccc" /><polygon points="226.7,344.0 234.7,342.7 237.3,346.7 233.3,348.0 228.7,347.3" fill="#e0f3db" /><polygon points="244.0,356.0 256.0,354.7 260.0,358.7 253.3,360.0 245.3,360.0" fill="#e0f3db" /><polygon points="269.3,316.9 272.7,314.0 276.7,312.0 280.0,311.3 280.0,324.0 276.7,325.3 274.0,322.7 272.0,320.0" fill="#0868ac" /><polygon points="271.3,321.3 274.0,322.9 276.7,325.6 280.0,324.7 280.0,340.0 279.3,337.3 277.3,333.3 274.7,329.3 272.7,325.3" fill="#cccccc" /></g><g clip-path="url(#t10)" shape-rendering="crispEdges"><polygon points="336.0,297.3 341.3,293.3 345.3,293.3 346.7,297.3 352.0,300.0 357.3,296.0 360.0,297.3 360.0,318.7 354.7,319.3 352.0,316.0 349.3,312.0 352.0,308.0 349.3,304.0 345.3,305.3 341.3,301.3 337.3,300.0" fill="#e0f3db" /><polygon points="329.3,310.0 333.3,308.7 338.7,311.3 340.0,314.0 334.7,314.7 330.7,313.3" fill="#e0f3db" /><polygon points="352.0,304.0 357.3,302.7 360.0,304.0 360.0,318.7 356.0,318.7 353.3,314.7 354.7,309.3" fill="#a8ddb5" /><polygon points="280.0,284.0 282.7,288.0 286.7,293.3 292.0,292.0 297.3,290.7 301.3,290.0 306.7,288.0 310.7,286.7 312.0,290.7 308.0,293.3 308.7,297.3 305.3,301.3 306.7,305.3 310.7,306.7 313.3,305.3 316.0,310.7 314.7,314.7 318.7,320.0 324.0,322.7 333.3,324.0 337.3,320.7 342.7,318.7 349.3,316.7 354.7,319.3 360.0,319.3 360.0,360.0 292.0,360.0 290.7,354.7 286.7,349.3 282.7,342.7 280.0,338.7" fill="#e0f3db" /><polygon points="280.0,288.0 284.0,293.3 288.0,294.7 293.3,293.3 297.3,293.3 300.0,297.3 302.7,301.3 304.0,306.7 308.7,308.7 312.0,306.7 314.7,312.0 313.3,316.0 317.3,320.0 322.7,323.3 333.3,325.3 337.3,322.7 342.7,320.0 349.3,318.7 354.7,320.7 360.0,320.7 360.0,360.0 293.3,360.0 292.0,353.3 288.0,346.7 284.0,340.0 280.0,336.0" fill="#a8ddb5" /><polygon points="280.0,292.0 284.0,296.0 289.3,296.0 293.3,294.7 296.7,296.7 298.7,301.3 301.3,305.3 303.3,310.7 306.7,313.3 310.7,314.7 313.3,318.7 316.0,322.7 320.0,325.3 326.7,326.7 333.3,328.0 338.7,326.7 344.0,325.3 349.3,324.0 352.7,324.7 360.0,324.0 360.0,360.0 294.7,360.0 293.3,354.7 289.3,349.3 285.3,342.7 281.3,337.3 280.0,333.3" fill="#7bccc4" /><polygon points="280.0,297.3 284.0,298.7 288.0,297.3 292.0,296.0 294.7,297.3 296.7,301.3 298.7,306.7 301.3,310.7 304.0,314.7 308.0,318.7 311.3,322.7 313.3,326.7 317.3,330.7 322.7,332.7 329.3,333.3 336.0,334.7 341.3,333.3 346.7,332.0 352.7,331.3 356.0,328.0 360.0,325.3 360.0,360.0 317.3,360.0 316.0,354.7 313.3,349.3 309.3,344.0 305.3,340.0 302.7,342.7 301.3,348.0 298.7,352.0 296.0,356.0 294.7,360.0 292.7,358.7 292.0,352.0 288.0,346.7 284.0,340.0 280.0,334.7" fill="#2b8cbe" /><polygon points="285.3,301.3 289.3,298.7 292.7,297.3 294.7,300.0 296.0,305.3 293.3,308.7 290.7,312.0 293.3,314.7 300.0,316.0 305.3,317.3 308.7,321.3 310.7,326.7 308.0,330.7 304.0,329.3 301.3,333.3 300.0,338.7 297.3,344.0 294.7,341.3 292.0,337.3 289.3,333.3 286.7,329.3 285.3,324.0 284.0,320.0 280.0,318.7 280.0,306.7 284.0,305.3" fill="#0868ac" /><polygon points="282.7,320.0 285.3,324.0 286.7,329.3 288.0,334.7 285.3,336.0 283.3,330.7 282.0,325.3" fill="#7bccc4" /><polygon points="296.0,318.7 300.0,318.0 302.0,322.7 301.3,330.7 298.7,332.7 297.3,326.7 296.7,322.7" fill="#7bccc4" /><polygon points="320.0,336.0 325.3,334.0 333.3,335.3 340.0,334.7 346.7,333.3 352.7,332.7 360.0,326.7 360.0,338.7 354.7,340.0 349.3,342.7 344.0,345.3 338.7,348.0 333.3,349.3 330.7,352.0 329.3,357.3 328.0,360.0 318.7,360.0 318.0,354.7 317.3,346.7 318.7,341.3" fill="#0868ac" /><polygon points="313.3,333.3 318.0,332.7 318.7,336.7 314.7,338.0" fill="#cccccc" /><polygon points="302.7,330.7 306.0,330.0 306.7,335.3 303.3,336.0" fill="#e0f3db" /><polygon points="280.0,285.3 282.0,286.0 283.3,290.7 285.3,294.7 282.7,296.7 280.0,296.0" fill="#2b8cbe" /><polygon points="330.7,350.7 336.0,349.3 340.0,346.7 345.3,344.0 350.7,342.0 354.7,340.7 360.0,340.0 360.0,360.0 332.7,360.0 332.0,354.7" fill="#ffee00" /><polygon points="337.3,360.0 338.7,354.7 342.7,351.3 349.3,348.0 354.7,346.7 360.0,346.0 360.0,360.0" fill="#ffee88" /><polygon points="339.3,360.0 340.7,356.7 344.0,354.0 349.3,350.7 354.7,348.9 360.0,348.3 360.0,360.0" fill="#f5cf85" /><polygon points="356.0,360.0 357.3,356.0 360.0,354.0 360.0,360.0" fill="#f0a850" /><polygon points="292.0,305.3 296.0,303.3 295.3,307.3 292.7,308.7" fill="#ffee00" /><polygon points="294.0,322.0 295.3,322.0 295.3,323.3 294.0,323.3" fill="#ffee00" /><polygon points="298.7,332.7 300.7,332.7 300.7,334.0 298.7,334.0" fill="#ffee00" /><polygon points="296.7,337.3 298.7,337.3 298.7,342.7 296.7,342.7" fill="#ffee00" /></g><g clip-path="url(#t11)" shape-rendering="crispEdges"><rect x="360" y="280" width="80" height="80" fill="#e0f3db"/><polygon points="360.0,280.0 372.0,280.0 369.3,282.7 365.3,284.0 362.7,286.7 360.0,288.0" fill="#cccccc" /><polygon points="360.0,294.7 364.0,296.0 368.0,300.0 366.7,302.7 362.7,301.3 360.0,300.0" fill="#cccccc" /><polygon points="380.0,280.0 394.7,280.0 396.0,283.3 398.7,286.7 396.0,288.0 392.0,285.3 388.0,286.0 385.3,284.0 381.3,282.7" fill="#cccccc" /><polygon points="413.3,280.0 420.0,280.0 418.7,282.0 414.7,282.0" fill="#cccccc" /><polygon points="360.0,280.0 363.3,280.0 362.7,293.3 364.0,306.7 360.0,310.7" fill="#cccccc" /><polygon points="373.3,283.3 380.0,282.7 380.7,289.3 374.0,290.0" fill="#cccccc" /><polygon points="360.0,292.0 365.3,290.7 370.7,288.0 376.0,286.7 380.0,289.3 385.3,292.0 390.7,291.3 396.0,293.3 401.3,292.0 406.7,290.7 413.3,289.3 418.7,288.0 424.0,286.7 429.3,286.7 434.7,282.7 440.0,280.0 440.0,360.0 360.0,360.0" fill="#a8ddb5" /><polygon points="368.0,305.3 373.3,302.7 378.7,304.7 381.3,308.0 376.0,308.7 370.7,308.7" fill="#e0f3db" /><polygon points="360.0,301.3 364.0,300.0 368.0,297.3 373.3,294.7 377.3,296.0 381.3,298.7 386.7,301.3 392.0,297.3 396.0,294.7 400.0,297.3 404.0,298.7 409.3,296.0 414.7,293.3 420.0,291.3 425.3,289.3 430.7,287.3 436.0,285.3 440.0,284.0 440.0,360.0 360.0,360.0" fill="#7bccc4" /><polygon points="360.0,305.3 362.7,304.7 366.7,308.0 370.7,312.0 374.7,314.7 378.7,311.3 382.7,308.7 386.7,305.3 390.7,303.3 394.7,301.3 397.3,298.7 400.0,301.3 402.7,305.3 406.7,304.0 412.0,300.0 417.3,296.0 422.7,293.3 428.0,290.7 433.3,288.7 440.0,286.7 440.0,360.0 360.0,360.0" fill="#2b8cbe" /><polygon points="373.3,318.7 378.7,316.0 380.0,321.3 382.7,325.3 380.0,329.3 376.0,330.7 373.3,326.7" fill="#7bccc4" /><polygon points="377.3,310.7 384.0,310.0 392.0,311.3 396.0,314.7 396.7,320.0 393.3,324.0 388.0,326.0 382.7,325.3 380.0,321.3 378.7,316.0" fill="#a8ddb5" /><polygon points="384.7,312.7 390.0,312.0 390.7,316.0 386.0,316.7" fill="#e0f3db" /><polygon points="360.0,326.7 364.0,326.0 366.0,330.7 364.0,334.7 360.0,336.0" fill="#a8ddb5" /><polygon points="360.0,306.7 362.7,306.0 366.0,309.3 370.0,313.3 372.7,317.3 368.0,318.7 364.0,320.0 361.3,322.7 360.0,324.0" fill="#0868ac" /><polygon points="384.0,300.7 388.0,302.0 392.0,303.3 396.0,300.0 398.0,299.3 400.0,302.7 402.0,306.7 400.0,310.0 394.7,310.0 390.0,306.7 386.0,304.0" fill="#0868ac" /><polygon points="440.0,289.3 434.7,291.3 429.3,294.0 424.0,297.3 418.7,301.3 413.3,305.3 408.0,308.7 404.0,311.3 401.3,314.7 400.0,318.7 397.3,322.7 393.3,326.0 388.0,328.7 382.7,331.3 378.7,333.3 373.3,334.7 368.0,335.3 364.0,336.0 360.0,336.7 360.0,360.0 440.0,360.0" fill="#0868ac" /><polygon points="360.0,324.0 364.0,322.7 368.0,324.0 370.7,328.0 372.7,332.0 368.0,335.3 360.0,336.7" fill="#0868ac" /><polygon points="360.0,340.7 364.0,339.3 366.7,337.3 370.7,338.7 374.7,339.3 378.7,338.0 384.0,336.7 388.0,334.0 392.0,332.0 397.3,330.0 401.3,327.3 404.9,324.7 404.9,318.0 407.5,317.5 408.9,320.9 411.5,322.0 414.0,320.0 414.9,316.0 417.5,312.9 420.9,312.0 422.9,310.5 424.0,314.0 424.5,316.9 426.9,320.0 429.5,319.5 440.0,320.0 440.0,360.0 360.0,360.0" fill="#ffee00" /><polygon points="417.3,324.7 421.3,322.0 422.7,323.3 419.3,326.7" fill="#0868ac" /><polygon points="360.0,344.0 365.3,342.7 370.7,342.0 376.0,341.6 381.3,340.0 386.7,338.7 392.0,336.0 397.3,333.3 402.7,330.7 406.7,328.0 410.7,326.7 413.3,329.3 410.7,333.3 406.7,336.0 440.0,336.0 440.0,360.0 360.0,360.0" fill="#ffee88" /><polygon points="360.0,346.0 365.3,344.7 370.7,345.1 376.0,345.3 381.3,344.0 386.7,342.0 392.0,339.3 396.0,338.7 394.7,342.7 390.7,346.7 386.7,350.0 381.3,354.0 377.3,357.3 374.7,360.0 360.0,360.0" fill="#f5cf85" /><polygon points="360.0,354.7 364.0,354.0 368.0,356.0 372.0,358.7 373.3,360.0 360.0,360.0" fill="#f0a850" /></g><g clip-path="url(#t12)" shape-rendering="crispEdges"><rect x="440" y="280" width="40" height="80" fill="#a8ddb5"/><polygon points="440.0,284.9 444.0,282.0 446.7,280.0 480.0,280.0 480.0,360.0 440.0,360.0" fill="#7bccc4" /><polygon points="440.0,286.5 445.3,282.7 448.3,280.0 480.0,280.0 480.0,360.0 440.0,360.0" fill="#2b8cbe" /><polygon points="440.0,289.1 445.3,285.1 450.0,281.5 452.0,280.0 480.0,280.0 480.0,360.0 440.0,360.0" fill="#0868ac" /></g><g clip-path="url(#t13)" shape-rendering="crispEdges"><polygon points="218.0,360.0 222.0,360.0 221.3,363.3 218.7,364.0" fill="#e0f3db" /><polygon points="224.7,374.7 228.0,373.3 229.3,378.7 228.7,383.3 225.3,384.0 226.7,380.0" fill="#e0f3db" /><polygon points="218.7,380.7 225.3,380.0 224.7,384.0 220.0,384.0" fill="#e0f3db" /><polygon points="232.0,372.0 236.7,371.3 236.0,377.3 233.3,382.7 232.0,386.7 230.0,384.0 232.0,378.7" fill="#e0f3db" /><polygon points="230.0,386.7 236.0,385.1 242.7,384.0 248.0,384.7 253.3,386.4 258.7,386.7 264.0,385.6 268.0,390.0 273.3,392.7 280.0,394.0 280.0,400.0 274.7,400.0 269.3,398.7 262.7,400.0 258.7,400.0 253.3,398.0 248.0,395.7 242.7,394.7 238.7,396.0 234.7,398.7 232.0,400.0 228.7,398.7 229.3,393.3" fill="#e0f3db" /><polygon points="216.7,407.3 220.0,404.7 223.3,400.7 228.7,398.7 232.7,400.7 234.0,405.3 235.3,409.3 233.3,412.7 228.0,413.3 222.7,413.3 218.0,412.3" fill="#e0f3db" /><polygon points="233.3,412.7 236.0,410.7 240.0,416.0 245.3,419.3 253.3,422.0 258.7,426.0 263.3,430.7 262.0,434.7 257.3,433.3 253.3,429.3 248.0,426.7 242.7,424.0 238.7,422.7 236.0,418.7" fill="#e0f3db" /><polygon points="230.7,429.3 234.7,426.7 240.0,425.3 245.3,428.0 250.7,432.0 256.0,433.3 261.3,434.7 262.7,440.0 240.0,440.0 236.0,437.3 232.7,432.7" fill="#e0f3db" /><polygon points="258.7,400.0 262.7,400.0 269.3,398.7 274.7,400.0 280.0,400.0 280.0,440.0 266.7,440.0 268.0,433.3 270.7,426.7 274.7,421.3 277.3,417.3 274.7,418.7 269.3,416.0 265.3,412.7 262.0,410.7 260.0,406.7" fill="#e0f3db" /><polygon points="270.7,404.0 274.7,402.7 280.0,404.0 280.0,416.0 276.0,414.7 272.0,412.0 269.3,408.0" fill="#cccccc" /><polygon points="266.7,380.0 270.7,380.0 273.3,382.7 272.7,386.0 268.0,386.7" fill="#e0f3db" /><polygon points="217.3,406.0 221.3,404.0 224.7,400.7 229.3,400.0 232.0,402.7 232.7,406.7 231.3,410.7 226.7,412.0 221.3,412.0 218.0,410.7" fill="#a8ddb5" /><polygon points="249.3,391.3 253.3,390.0 258.7,391.3 262.7,393.3 260.0,396.7 254.7,395.3 250.7,394.7" fill="#a8ddb5" /><polygon points="236.0,392.0 242.7,391.3 243.3,394.0 236.7,394.7" fill="#a8ddb5" /><polygon points="256.0,396.0 262.7,395.3 264.0,400.0 258.7,400.0" fill="#a8ddb5" /><polygon points="262.7,398.7 269.3,396.7 274.7,398.7 276.0,401.3 272.0,404.0 270.7,410.7 268.0,412.0 266.0,406.7 264.0,402.7" fill="#7bccc4" /><polygon points="266.7,405.3 268.7,405.3 268.7,412.0 266.7,412.0" fill="#2b8cbe" /><polygon points="280.0,417.3 276.0,421.3 272.0,425.3 269.3,430.7 268.0,436.0 269.3,440.0 280.0,440.0" fill="#a8ddb5" /><polygon points="280.0,420.0 277.3,424.0 274.7,428.0 272.7,433.3 273.3,440.0 280.0,440.0" fill="#7bccc4" /><polygon points="280.0,422.7 278.0,426.7 276.0,432.0 275.3,437.3 276.0,440.0 280.0,440.0" fill="#2b8cbe" /><polygon points="280.0,429.3 278.7,433.3 278.0,440.0 280.0,440.0" fill="#0868ac" /><polygon points="266.7,424.0 270.0,421.3 270.0,440.0 264.0,440.0 264.7,432.0" fill="#7bccc4" /><polygon points="268.0,426.7 270.0,425.3 270.0,440.0 266.7,440.0" fill="#2b8cbe" /><polygon points="233.3,429.3 240.0,428.7 242.7,434.0 240.0,437.3 235.3,436.7" fill="#7bccc4" /><polygon points="235.3,431.3 238.7,430.7 240.7,433.3 239.3,435.3 236.7,434.7" fill="#2b8cbe" /><polygon points="210.4,390.7 211.7,390.7 211.7,393.3 210.4,393.3" fill="#2b8cbe" /></g><g clip-path="url(#t14)" shape-rendering="crispEdges"><polygon points="314.0,360.0 316.0,365.3 312.0,372.0 306.7,377.3 300.0,381.3 294.7,385.3 291.3,390.0 288.0,394.7 284.0,398.7 280.0,400.7 280.0,440.0 360.0,440.0 360.0,360.0" fill="#e0f3db" /><polygon points="280.0,404.0 285.3,402.7 289.3,406.7 285.3,410.7 280.0,412.7" fill="#cccccc" /><polygon points="294.7,400.0 298.7,398.7 300.0,402.7 296.0,404.0" fill="#cccccc" /><polygon points="308.7,365.3 313.3,364.0 314.7,368.0 312.0,372.0 310.0,370.0" fill="#cccccc" /><polygon points="314.9,365.3 317.3,370.7 316.3,376.0 314.0,381.3 312.7,386.7 314.0,392.0 312.0,392.7 308.7,390.0 306.7,384.0 308.7,377.3 311.3,372.0 313.3,366.7" fill="#a8ddb5" /><polygon points="310.0,376.0 312.7,375.3 313.1,378.7 310.4,379.3" fill="#e0f3db" /><polygon points="308.7,382.7 311.3,382.0 311.7,385.3 309.1,386.0" fill="#e0f3db" /><polygon points="280.0,413.3 285.3,412.7 290.7,413.3 296.0,416.0 301.3,418.7 302.7,424.0 300.0,429.3 296.0,432.0 290.7,434.7 288.0,438.7 280.0,440.0" fill="#a8ddb5" /><polygon points="300.0,393.3 306.7,392.0 312.0,394.7 317.3,398.7 322.7,402.7 327.3,405.3 326.7,410.7 324.0,413.3 320.0,416.0 318.7,420.0 313.3,418.7 309.3,416.0 306.7,412.0 302.7,409.3 298.7,405.3 297.3,400.0" fill="#7bccc4" /><polygon points="292.0,400.0 297.3,398.7 298.7,405.3 296.0,410.7 292.0,409.3 290.0,404.7" fill="#a8ddb5" /><polygon points="301.3,416.0 305.3,413.3 306.7,417.3 303.3,420.0" fill="#cccccc" /><polygon points="300.7,424.0 305.3,422.7 306.7,426.7 302.7,429.3" fill="#cccccc" /><polygon points="293.3,432.0 298.7,430.7 301.3,436.0 296.0,437.3" fill="#cccccc" /><polygon points="280.0,438.0 288.0,436.0 296.0,436.7 304.0,434.7 304.7,440.0 280.0,440.0" fill="#cccccc" /><polygon points="315.3,360.0 318.7,360.0 320.7,366.7 322.7,372.0 321.3,377.3 320.0,382.7 318.7,388.0 317.3,393.3 314.7,392.0 313.3,386.7 314.7,381.3 316.7,376.0 318.0,370.7 316.7,365.3" fill="#2b8cbe" /><polygon points="314.0,360.7 316.0,360.0 317.3,365.3 318.4,370.7 317.1,376.0 314.9,381.3 313.6,386.7 314.9,392.0 312.7,390.7 312.0,385.3 313.3,380.0 315.3,374.7 316.3,369.3 314.9,365.3" fill="#7bccc4" /><polygon points="318.7,360.0 328.0,360.0 330.7,365.3 329.3,370.7 327.3,376.0 326.0,382.7 326.7,389.3 328.0,394.7 328.0,400.0 327.3,404.7 322.7,402.0 318.7,398.7 317.3,393.3 318.7,388.0 320.0,382.7 321.3,377.3 322.7,372.0 320.7,366.7" fill="#0868ac" /><polygon points="301.3,395.3 306.7,394.0 310.7,396.7 313.3,400.0 316.0,405.3 318.7,410.7 320.7,414.7 317.3,417.3 314.0,414.7 312.0,410.7 310.0,405.3 306.7,401.3 302.7,398.7" fill="#0868ac" /><polygon points="303.3,404.0 306.7,403.3 308.7,406.7 306.0,408.7 303.3,407.3" fill="#e0f3db" /><polygon points="317.1,402.9 322.9,402.3 326.9,406.3 326.3,411.7 321.3,413.1 317.1,410.0" fill="#ffee00" /><polygon points="318.4,404.3 322.7,403.6 325.7,406.9 325.1,410.7 321.3,411.7 318.4,409.3" fill="#cccccc" /><polygon points="328.0,360.0 336.0,360.0 334.7,365.3 333.3,370.7 332.0,377.3 331.3,384.0 330.7,390.7 331.3,397.3 330.7,402.7 330.0,406.0 327.3,404.7 328.0,400.0 328.0,394.7 326.7,389.3 326.0,382.7 327.3,376.0 329.3,370.7 330.7,365.3" fill="#ffee00" /><polygon points="327.3,404.7 331.3,406.7 333.3,408.0 330.7,411.3 328.7,416.0 326.7,420.0 324.0,422.7 320.0,424.0 316.0,422.7 313.3,424.0 310.7,428.0 306.7,430.7 308.7,432.7 313.3,429.3 317.3,426.7 322.7,425.3 326.7,424.0 324.0,418.7 325.3,413.3 326.4,411.3" fill="#ffee00" /><polygon points="336.0,360.0 352.7,360.0 360.0,360.0 360.0,375.3 356.0,378.0 352.7,380.0 350.0,382.0 349.3,384.7 345.3,387.3 342.7,391.3 340.7,394.7 338.7,398.7 336.0,402.7 332.7,406.7 330.0,406.0 330.7,402.7 331.3,397.3 330.7,390.7 331.3,384.0 332.0,377.3 333.3,370.7 334.7,365.3" fill="#ffee88" /><polygon points="338.3,360.0 360.0,360.0 360.0,375.3 356.0,378.0 352.7,380.0 350.0,382.0 349.3,384.7 345.3,387.3 342.7,391.3 340.7,394.7 338.7,398.7 336.0,402.7 332.7,406.7 332.0,405.3 332.7,402.7 333.3,397.3 332.7,390.7 333.3,384.0 334.0,377.3 335.3,370.7 336.7,365.3" fill="#f5cf85" /><polygon points="337.3,374.7 342.7,372.7 348.0,373.3 352.0,376.0 350.0,381.3 346.7,384.7 342.7,386.7 339.3,385.3 337.3,381.3" fill="#f0a850" /><polygon points="280.0,416.0 284.0,414.7 288.0,416.0 292.0,418.7 296.0,420.0 298.7,424.0 296.0,428.0 292.0,429.3 289.3,432.0 286.7,436.0 282.7,438.7 280.0,439.3" fill="#0868ac" /><polygon points="280.0,416.0 282.7,414.9 284.7,418.7 283.3,422.7 280.0,424.0" fill="#2b8cbe" /><polygon points="282.7,436.0 286.7,432.7 290.7,429.3 293.3,427.3 293.3,429.3 290.0,432.7 286.7,436.7 283.3,438.7" fill="#ffee00" /><polygon points="293.3,375.3 297.3,374.7 298.7,378.7 296.0,381.3 293.3,380.0" fill="#2b8cbe" /><polygon points="294.0,378.7 296.7,378.7 296.7,380.0 294.0,380.0" fill="#ffee00" /><polygon points="290.0,382.7 293.3,382.0 294.0,385.3 290.7,386.0" fill="#7bccc4" /><polygon points="327.3,420.7 330.0,428.0 332.7,432.0 334.0,436.0 333.3,440.0 304.0,440.0 306.7,434.7 310.7,429.3 314.7,425.3 320.0,424.0 324.0,422.7" fill="#ffee88" /><polygon points="316.0,429.3 320.0,426.7 325.3,426.7 329.3,429.3 331.3,433.3 332.0,440.0 313.3,440.0 314.0,434.7" fill="#f0a850" /></g><g clip-path="url(#t15)" shape-rendering="crispEdges"><rect x="360" y="360" width="80" height="80" fill="#f5cf85"/><polygon points="360.0,360.0 368.0,360.0 365.3,364.0 360.0,365.3" fill="#f0a850" /></g><g clip-path="url(#t16)" shape-rendering="crispEdges"><polygon points="280.0,420.0 301.3,420.0 302.7,424.0 298.7,428.0 293.3,430.7 288.0,434.7 282.7,437.3 280.0,438.0" fill="#7bccc4" /><polygon points="280.0,422.7 285.3,421.3 292.0,420.0 297.3,420.0 294.7,424.0 289.3,427.3 285.3,430.7 280.0,433.3" fill="#0868ac" /><polygon points="282.0,434.7 286.0,431.3 290.7,428.7 292.7,430.0 288.0,433.3 284.0,436.7" fill="#ffee00" /><polygon points="296.0,428.0 302.7,425.3 305.3,429.3 300.0,433.3 296.0,432.0" fill="#e0f3db" /><polygon points="302.0,430.0 306.7,426.0 312.0,425.3 314.0,428.0 310.7,430.0 307.3,429.3 304.7,432.7" fill="#2b8cbe" /><polygon points="287.3,452.7 288.7,446.7 292.7,442.9 298.0,440.3 302.4,437.6 306.4,433.6 310.9,429.6 313.6,425.6 313.1,421.6 315.7,420.0 360.0,420.0 360.0,464.7 346.0,464.9 338.7,469.1 330.7,473.1 320.0,475.2 313.3,477.1 306.7,478.4 300.0,479.1 294.4,478.4 291.7,475.7 287.7,473.3 284.0,476.7 280.0,478.0 280.0,460.0 284.0,461.3 288.0,464.0 292.0,462.7 289.3,456.0" fill="#ffee00" /><polygon points="280.0,460.0 284.0,461.3 288.0,464.0 286.7,469.3 284.0,473.3 280.0,476.0" fill="#7bccc4" /><polygon points="282.7,460.7 284.0,461.3 288.0,464.0 292.0,462.7 296.0,460.0 300.0,460.0 303.3,462.0 306.7,464.7 310.7,460.0 313.3,456.7 315.3,458.0 316.0,462.7 313.3,466.0 309.3,467.3 306.7,466.7 304.7,470.0 308.0,472.7 308.7,475.3 304.0,476.0 300.0,474.0 296.0,473.3 292.0,472.7 289.3,474.7 286.7,473.3 284.7,470.7 285.3,466.0" fill="#0868ac" /><polygon points="288.0,465.3 293.3,464.0 298.7,466.7 301.3,470.7 296.0,472.7 290.7,472.0 286.7,469.3" fill="#2b8cbe" /><polygon points="292.0,451.3 291.3,447.3 294.7,444.3 299.3,442.0 303.7,439.3 307.7,435.3 312.3,431.7 316.0,427.3 318.7,424.0 322.7,421.3 326.7,420.7 360.0,420.0 360.0,464.7 346.0,464.7 338.7,468.3 330.7,472.0 324.0,473.3 320.0,471.3 316.0,468.0 318.7,464.7 318.0,461.3 314.0,458.0 312.7,454.9 308.7,453.6 304.7,454.9 300.7,457.6 296.7,454.9 294.0,453.6" fill="#ffee88" /><polygon points="318.7,448.7 322.7,449.3 326.7,452.0 330.7,453.3 333.3,451.3 336.0,455.3 333.3,457.3 328.0,458.7 324.0,460.0 320.0,464.0 318.0,461.3 314.0,458.0 312.7,454.9 314.7,450.0" fill="#f5cf85" /><polygon points="294.0,450.0 293.3,447.3 296.7,445.1 301.3,442.7 305.3,440.0 309.3,436.3 313.3,432.7 317.3,428.7 322.7,426.7 327.3,426.7 331.3,430.7 333.1,434.7 332.4,438.7 331.7,442.7 332.4,446.7 333.3,451.3 330.7,453.3 326.7,452.0 322.7,449.3 318.7,448.7 314.7,450.0 311.3,452.0 308.0,451.3 304.0,452.7 300.0,455.3 296.7,452.7" fill="#f0a850" /><polygon points="320.0,464.0 324.0,460.0 328.0,458.7 333.3,457.3 336.0,455.3 339.3,458.7 341.3,461.3 344.0,463.3 345.3,464.9 338.7,468.0 330.7,471.7 325.3,473.1 321.3,472.7 319.3,469.3" fill="#f0a850" /><polygon points="317.3,437.3 321.3,436.7 322.7,440.0 320.0,442.0 317.3,440.7" fill="#e89040" /><polygon points="313.3,446.0 317.1,444.0 319.7,448.0 318.0,451.3 314.0,450.9" fill="#ffee00" /><polygon points="314.4,446.7 316.7,445.3 318.7,448.0 317.3,450.4 314.9,450.0" fill="#0868ac" /><polygon points="327.7,459.7 332.3,459.1 332.9,469.6 328.3,470.3" fill="#ffee00" /><polygon points="328.7,460.7 331.3,460.0 332.0,463.3 329.3,464.0" fill="#0868ac" /><polygon points="328.7,466.0 332.0,465.3 332.7,468.7 329.3,469.3" fill="#0868ac" /></g><g clip-path="url(#t17)" shape-rendering="crispEdges"><polygon points="262.7,440.0 270.7,440.0 270.7,445.3 266.7,449.3 262.7,446.7" fill="#7bccc4" /><polygon points="266.0,440.0 270.7,440.0 270.7,444.0 267.3,446.0" fill="#2b8cbe" /><polygon points="276.0,464.0 280.0,461.3 280.0,478.7 278.0,477.3" fill="#7bccc4" /><polygon points="278.0,466.7 280.0,464.7 280.0,477.3 278.9,474.7" fill="#0868ac" /></g><g clip-path="url(#t18)" shape-rendering="crispEdges"><rect x="270" y="260" width="60" height="40" fill="#cccccc"/><polygon points="286.0,260.0 295.0,263.0 296.0,266.0 293.5,269.0 292.5,266.0 290.0,263.0" fill="#7bccc4" /><polygon points="281.5,272.0 283.5,272.0 283.5,274.5 281.5,274.5" fill="#e0f3db" /><polygon points="305.0,286.5 310.0,286.0 311.5,290.0 307.0,292.0" fill="#e0f3db" /><polygon points="270.0,260.0 272.0,260.0 272.0,266.0 270.0,267.0" fill="#0868ac" /><polygon points="270.0,272.0 273.0,273.0 275.0,277.0 274.5,282.0 273.0,286.0 276.0,290.0 279.5,294.5 280.0,298.0 277.0,302.0 270.0,302.0" fill="#ffee00" /><polygon points="270.0,277.0 272.0,277.5 272.5,283.0 271.5,290.0 270.0,292.0" fill="#ffee88" /><polygon points="274.0,276.5 278.5,277.5 280.0,283.0 280.5,288.0 284.5,293.0 286.0,296.5 282.5,299.0 280.0,298.0 279.5,294.5 276.0,290.0 273.0,286.0 274.5,282.0 275.0,277.0" fill="#7bccc4" /><polygon points="274.2,277.2 278.0,278.2 279.3,283.2 279.8,288.2 283.8,293.2 284.8,296.0 282.0,297.8 280.0,297.8 279.5,294.5 276.0,290.0 273.2,285.8 274.7,282.0 275.2,277.2" fill="#0868ac" /><polygon points="276.0,300.0 280.0,297.8 282.0,297.8 285.0,300.0" fill="#0868ac" /><polygon points="286.0,300.0 289.0,296.5 293.0,292.5 297.0,295.5 299.0,300.0" fill="#e0f3db" /><polygon points="287.5,300.0 289.5,297.5 293.0,293.5 296.5,296.0 298.0,300.0" fill="#7bccc4" /><polygon points="289.0,300.0 290.0,299.0 293.0,295.0 295.5,297.0 296.8,300.0" fill="#0868ac" /><polygon points="298.0,300.0 300.0,298.0 302.0,300.0" fill="#e0f3db" /></g><g clip-path="url(#t19)" shape-rendering="crispEdges"><rect x="280" y="300" width="60" height="60" fill="#cccccc"/><polygon points="280.0,300.0 300.0,300.0 301.5,302.0 304.0,302.0 306.0,301.0 309.0,306.0 310.0,310.0 313.0,306.0 315.0,310.0 316.0,316.0 320.0,320.0 325.0,323.0 330.0,324.0 334.5,326.2 340.0,320.5 340.0,360.0 313.0,360.0 311.0,356.0 308.0,352.0 310.0,348.0 308.0,344.0 305.0,340.0 302.0,338.0 301.0,342.0 299.0,346.0 296.0,350.0 295.0,356.0 293.0,358.0 291.0,352.0 289.0,348.0 286.0,344.0 283.0,340.0 280.0,338.0" fill="#e0f3db" /><polygon points="280.0,300.0 298.5,300.0 299.5,308.0 303.5,304.0 305.8,303.0 308.0,308.0 309.0,313.0 312.0,309.0 314.0,312.0 315.0,317.0 319.0,321.0 325.0,323.8 330.0,324.8 334.5,327.0 340.0,321.5 340.0,360.0 315.0,360.0 313.0,356.0 310.0,352.0 311.0,348.0 309.0,344.0 306.0,340.0 302.5,337.0 300.5,341.0 298.5,345.0 296.0,349.0 294.5,354.0 292.5,355.0 291.0,350.0 289.0,346.0 286.0,342.0 283.0,338.0 280.0,336.0" fill="#a8ddb5" /><polygon points="280.0,300.0 297.8,300.0 299.0,310.0 303.0,306.0 305.5,305.0 307.0,310.0 307.5,315.0 310.0,319.0 318.0,324.0 324.0,325.0 330.0,325.8 334.5,327.5 340.0,322.5 340.0,360.0 317.0,360.0 315.0,356.0 312.0,352.0 313.0,348.0 310.0,344.0 307.0,340.0 303.0,335.0 300.0,340.0 298.0,344.0 296.0,347.0 294.0,348.0 292.0,347.0 290.0,344.0 287.0,340.0 284.0,336.0 281.0,333.0 280.0,332.0" fill="#7bccc4" /><polygon points="280.0,300.0 297.0,300.0 298.0,312.0 301.5,310.0 303.5,307.0 305.5,308.0 306.0,313.0 305.5,317.0 309.0,320.0 311.5,324.0 310.5,328.0 313.5,331.0 317.5,333.0 319.5,336.5 322.0,334.5 340.0,330.0 340.0,360.0 318.5,360.0 320.0,354.0 318.0,348.0 318.5,342.0 315.0,340.0 310.0,338.0 307.0,334.0 304.0,330.0 303.0,326.0 300.0,325.0 299.0,329.0 300.5,333.0 299.5,337.0 300.0,340.0 298.5,344.0 295.0,347.0 293.0,344.0 291.0,340.0 288.0,337.0 285.0,334.0 283.0,330.0 281.5,326.0 280.0,325.0" fill="#2b8cbe" /><polygon points="280.0,300.0 296.0,300.0 294.8,306.0 293.0,310.0 291.2,312.2 293.2,315.2 296.8,316.2 296.0,320.0 297.8,323.0 297.2,328.0 299.6,332.0 298.6,336.0 299.6,340.0 298.2,343.6 295.0,346.2 293.3,343.6 291.3,339.8 288.4,336.6 285.5,333.6 283.5,329.8 282.2,326.0 280.0,324.5" fill="#0868ac" /><polygon points="284.0,318.0 287.5,317.0 288.5,322.0 287.0,329.0 284.5,330.0 283.0,325.0" fill="#7bccc4" /><polygon points="280.0,310.0 286.0,309.5 290.0,312.8 286.0,313.5 280.0,313.0" fill="#2b8cbe" /><polygon points="286.0,333.0 288.5,333.0 288.5,336.0 286.0,336.0" fill="#7bccc4" /><polygon points="304.2,318.0 309.8,320.0 311.2,328.0 316.2,332.2 318.2,336.2 314.2,339.0 308.2,335.0 305.2,330.0 304.0,324.0" fill="#0868ac" /><polygon points="324.0,334.5 340.0,332.0 340.0,360.0 322.5,360.0 323.5,354.0 322.5,348.0 323.0,342.0 323.5,338.0" fill="#0868ac" /><polygon points="311.0,324.0 315.0,323.5 316.0,326.5 312.5,328.0" fill="#e0f3db" /><polygon points="313.0,335.0 317.0,334.0 318.0,336.5 314.5,338.5" fill="#cccccc" /><polygon points="330.5,350.0 334.0,349.0 340.0,347.8 340.0,360.0 329.0,360.0 330.0,354.0" fill="#ffee00" /><polygon points="334.5,360.0 335.0,356.0 337.0,353.0 340.0,351.8 340.0,360.0" fill="#ffee88" /><polygon points="336.5,360.0 337.0,357.0 338.5,355.0 340.0,354.0 340.0,360.0" fill="#f5cf85" /><polygon points="292.5,306.0 295.0,304.0 296.0,305.5 294.0,309.0 292.2,308.0" fill="#ffee00" /><polygon points="294.0,322.0 295.5,322.0 295.5,323.5 294.0,323.5" fill="#ffee00" /><polygon points="298.5,332.5 300.5,332.5 300.5,334.0 298.5,334.0" fill="#ffee00" /><polygon points="297.0,337.5 299.0,337.5 299.0,340.0 297.0,340.0" fill="#ffee00" /><polygon points="296.0,341.5 298.0,341.5 298.0,343.0 296.0,343.0" fill="#ffee00" /></g><g clip-path="url(#t20)" shape-rendering="crispEdges"><rect x="270" y="390" width="60" height="60" fill="#cccccc"/><polygon points="288.0,390.0 311.0,390.0 312.0,394.0 317.0,398.0 323.0,402.0 330.0,405.5 330.0,450.0 293.0,450.0 295.0,444.0 300.0,440.0 303.0,437.0 300.0,433.0 295.0,432.0 290.0,434.0 285.0,437.0 280.0,442.0 274.0,446.0 270.0,447.0 270.0,420.0 275.0,418.0 279.0,415.0 282.0,410.0 286.0,405.0 290.0,400.0 289.0,395.0" fill="#e0f3db" /><polygon points="311.5,390.0 318.0,390.0 320.0,398.0 317.0,397.8 312.5,393.8" fill="#7bccc4" /><polygon points="315.0,390.0 327.5,390.0 328.0,396.0 327.0,401.0 323.0,401.8 317.0,397.8 315.5,393.8" fill="#0868ac" /><polygon points="314.0,390.0 317.0,390.0 318.0,394.0 320.0,398.5 317.0,397.8 314.5,393.8" fill="#2b8cbe" /><polygon points="325.5,390.0 330.0,390.0 330.0,405.5 328.0,404.5 327.2,396.0" fill="#ffee00" /><polygon points="328.5,390.0 330.0,390.0 330.0,402.0 329.0,398.0" fill="#ffee88" /><polygon points="270.0,396.0 274.0,395.0 276.0,399.0 274.0,403.0 270.0,404.0" fill="#e0f3db" /><polygon points="270.0,397.0 272.5,396.5 273.0,401.0 270.0,402.0" fill="#7bccc4" /><polygon points="271.0,408.0 276.0,407.0 277.0,413.0 273.0,415.0 270.0,414.0" fill="#e0f3db" /><polygon points="291.0,393.0 310.0,392.0 313.0,396.0 318.0,400.0 320.0,404.0 318.0,419.0 314.0,421.0 310.0,425.0 304.0,430.0 300.0,430.0 295.0,428.0 290.0,432.0 285.0,436.0 280.0,441.0 274.0,445.0 270.0,446.0 270.0,438.0 274.0,434.0 277.0,428.0 280.0,420.0 284.0,414.0 288.0,408.0 290.0,402.0" fill="#a8ddb5" /><polygon points="293.0,395.0 300.0,394.0 309.0,394.0 312.0,397.0 317.0,401.0 319.0,405.0 318.0,419.0 314.0,420.0 310.0,423.0 305.0,427.0 300.0,429.0 295.0,427.0 290.0,431.0 285.0,435.0 280.0,440.0 274.0,444.0 270.0,444.5 270.0,440.0 274.0,436.0 277.0,430.0 280.0,422.0 283.0,417.0 287.0,415.0 290.0,410.0 291.5,402.0" fill="#7bccc4" /><polygon points="295.0,399.0 299.0,398.5 300.0,402.0 296.0,403.0" fill="#e0f3db" /><polygon points="302.0,401.0 307.0,400.0 308.0,404.0 303.0,405.0" fill="#e0f3db" /><polygon points="304.0,413.0 309.0,412.0 310.0,416.0 305.0,417.0" fill="#e0f3db" /><polygon points="296.0,412.0 300.0,411.5 300.5,416.0 296.5,416.5" fill="#e0f3db" /><polygon points="297.0,405.0 303.0,406.0 304.0,411.0 300.0,420.0 295.0,420.0 293.0,415.0 294.0,409.0" fill="#a8ddb5" /><polygon points="296.5,412.5 299.8,412.0 300.2,415.8 296.8,416.2" fill="#e0f3db" /><polygon points="300.0,394.5 310.0,395.5 314.0,398.0 316.0,403.0 317.0,408.0 319.0,414.0 318.0,419.0 314.0,420.0 311.0,418.0 310.0,413.0 308.0,409.0 309.0,403.0 306.0,399.0 301.0,398.0" fill="#2b8cbe" /><polygon points="279.5,417.5 285.0,414.5 288.5,416.5 290.5,421.5 295.5,422.5 300.5,423.5 302.0,427.0 296.5,428.8 292.2,427.8 289.5,430.5 285.5,433.8 282.2,436.8 278.2,440.8 274.2,442.8 270.0,444.5 270.0,439.5 272.8,436.5 275.8,432.5 277.8,427.5 280.5,422.5" fill="#2b8cbe" /><polygon points="309.0,398.0 313.0,397.0 315.0,401.0 314.0,405.0 317.0,408.0 316.0,412.0 319.0,414.0 318.0,419.0 314.0,420.0 311.0,418.0 312.0,414.0 310.0,410.0 311.0,405.0 309.0,402.0" fill="#0868ac" /><polygon points="301.0,395.0 305.0,394.2 310.0,396.0 309.0,399.0 304.0,398.8" fill="#0868ac" /><polygon points="280.0,417.0 285.0,415.0 288.0,417.0 290.0,422.0 295.0,423.0 300.0,424.0 301.0,427.0 296.0,428.0 292.0,427.0 289.0,430.0 285.0,433.0 282.0,436.0 278.0,440.0 274.0,442.0 271.0,444.0 270.0,442.0 273.0,437.0 276.0,433.0 278.0,428.0 281.0,423.0" fill="#0868ac" /><polygon points="283.0,424.0 287.0,423.0 289.0,426.0 285.0,428.0" fill="#7bccc4" /><polygon points="282.0,435.0 285.0,432.0 288.5,429.5 289.5,431.0 286.0,434.0 283.5,436.5" fill="#ffee00" /><polygon points="290.0,428.5 292.5,427.0 293.0,429.0 291.0,430.5" fill="#ffee00" /><polygon points="294.0,430.5 295.5,430.5 295.5,432.0 294.0,432.0" fill="#ffee00" /><polygon points="290.0,434.0 295.0,432.0 300.0,433.0 303.0,437.0 298.0,441.0 294.0,446.0 292.0,450.0 280.0,450.0 283.0,444.0 287.0,439.0" fill="#cccccc" /><polygon points="297.0,428.0 300.0,427.5 301.0,432.0 297.5,432.5" fill="#cccccc" /><polygon points="302.0,423.5 304.5,423.0 305.0,426.0 302.5,426.5" fill="#cccccc" /><polygon points="316.5,407.0 318.0,403.5 322.5,402.8 323.0,402.0 328.0,404.5 330.0,405.5 330.0,425.0 327.0,423.0 326.0,422.0 322.0,420.0 319.0,419.0 318.0,414.0 317.0,410.0" fill="#ffee00" /><polygon points="318.0,405.0 322.0,404.0 324.5,406.5 324.0,410.0 320.0,410.5 317.5,408.5" fill="#cccccc" /><polygon points="326.0,405.0 330.0,406.0 330.0,410.0 328.0,413.0 327.2,418.5 325.5,417.0 326.0,411.0" fill="#f5cf85" /><polygon points="304.5,430.0 307.0,427.5 310.0,425.5 313.0,424.0 314.0,426.0 312.0,428.5 309.0,430.5 306.0,432.0" fill="#ffee00" /><polygon points="309.5,429.5 312.0,429.0 312.5,431.5 310.0,432.0" fill="#cccccc" /><polygon points="290.0,450.0 293.5,442.5 298.0,439.0 302.0,437.0 306.0,433.0 310.0,430.0 314.0,427.0 318.0,424.0 322.0,422.0 326.0,421.0 330.0,424.0 330.0,450.0" fill="#ffee00" /><polygon points="292.0,450.0 295.0,443.0 299.0,440.0 303.0,438.0 307.0,434.0 311.0,431.0 315.0,428.0 319.0,425.0 323.0,423.0 326.0,422.0 330.0,424.5 330.0,450.0" fill="#ffee88" /><polygon points="293.5,450.0 296.2,444.2 300.2,441.2 304.2,439.2 308.2,435.2 312.2,432.2 316.2,429.2 320.2,426.2 324.2,424.2 327.0,423.2 330.0,425.2 330.0,450.0" fill="#f0a850" /><polygon points="317.0,438.0 321.0,437.0 322.0,440.0 319.0,441.5" fill="#e89040" /><polygon points="314.0,446.0 318.0,444.0 319.0,450.0 315.0,450.0" fill="#ffee88" /><polygon points="324.0,442.0 328.0,442.0 329.0,446.0 325.0,446.0" fill="#ffee88" /><polygon points="299.0,447.2 301.0,447.2 301.0,450.0 299.0,450.0" fill="#0868ac" /><polygon points="315.5,447.2 317.5,447.2 317.5,450.0 315.5,450.0" fill="#0868ac" /><polygon points="330.0,409.0 328.0,413.0 327.0,419.0 329.0,424.0 330.0,425.0" fill="#ffffff" /></g><g clip-path="url(#t21)" shape-rendering="crispEdges"><rect x="220" y="310" width="60" height="60" fill="#cccccc"/><polygon points="220.0,310.0 280.0,310.0 280.0,310.5 277.0,312.0 273.0,314.5 269.5,317.0 267.0,318.5 263.0,321.5 260.0,322.0 255.0,321.8 250.0,322.5 246.0,324.5 243.0,323.5 240.0,322.0 235.0,322.5 230.5,324.0 228.0,323.5 224.0,321.0 220.0,319.0" fill="#0868ac" /><polygon points="220.0,313.5 226.0,313.5 232.0,315.5 234.5,319.0 239.0,321.0 243.0,322.5 246.0,324.0 249.0,321.5 248.0,318.5 254.0,317.5 258.0,319.0 260.0,321.5 255.0,321.8 250.0,322.5 246.0,324.5 243.0,323.5 240.0,322.0 235.0,322.5 230.5,324.0 228.0,323.5 224.0,321.0 220.0,319.0" fill="#2b8cbe" /><polygon points="220.0,314.0 226.0,314.0 232.0,316.0 234.0,319.0 235.0,322.5 230.5,324.0 228.0,323.5 224.0,321.0 220.0,319.0" fill="#7bccc4" /><polygon points="222.0,316.0 227.0,316.0 231.0,319.0 232.0,322.5 230.5,323.8 228.0,323.0 224.0,320.0" fill="#e0f3db" /><polygon points="248.0,318.5 254.0,317.5 258.0,319.0 260.0,321.5 255.0,321.8 250.0,322.2" fill="#e0f3db" /><polygon points="250.0,319.0 254.0,318.5 256.0,320.0 252.0,320.8" fill="#cccccc" /><polygon points="260.0,316.0 264.0,315.0 267.0,318.0 264.0,321.0 261.0,319.0" fill="#e0f3db" /><polygon points="261.2,316.5 263.8,316.0 265.5,318.0 263.5,319.8" fill="#cccccc" /><polygon points="233.0,310.0 260.0,310.0 259.5,312.0 250.0,312.5 249.5,314.5 241.0,314.0 238.0,315.0 235.0,313.0" fill="#ffee00" /><polygon points="272.0,310.0 280.0,310.0 280.0,310.8 277.5,312.2 274.5,313.0" fill="#ffee00" /><polygon points="230.5,324.2 235.0,322.7 240.0,322.2 243.0,323.7 246.0,324.7 250.0,322.7 255.0,322.0 260.0,322.2 263.0,321.7 267.0,318.7 269.5,317.2 270.5,321.0 273.0,325.0 276.0,330.0 278.5,334.0 280.0,336.5 280.0,343.0 277.0,347.0 273.0,351.0 269.5,355.0 267.0,354.0 262.0,356.0 256.0,357.0 250.0,356.0 244.0,354.0 238.5,351.5 236.5,345.0 236.0,340.0 234.0,338.5 232.0,336.5 229.2,335.0 229.7,332.0 230.0,328.0" fill="#e0f3db" /><polygon points="230.8,324.8 240.0,322.8 246.0,325.2 250.0,323.2 260.0,322.7 264.0,322.2 268.0,325.0 270.0,330.0 272.0,335.0 274.0,340.0 272.0,344.0 268.0,348.0 267.0,352.0 262.0,354.0 256.0,355.0 250.0,354.0 244.0,352.0 239.0,350.0 238.0,345.0 237.5,340.5 234.0,337.2 231.0,333.2 230.0,328.2" fill="#a8ddb5" /><polygon points="231.0,325.0 240.0,323.0 246.0,325.5 250.0,323.5 260.0,323.0 264.0,322.5 267.8,325.2 269.8,330.0 271.8,335.0 273.5,340.0 271.8,343.8 268.0,346.8 264.0,349.8 260.0,348.8 258.0,345.0 255.0,340.0 250.0,336.2 245.0,335.2 242.2,340.2 238.0,340.2 234.0,337.0 231.2,333.0 230.2,328.2" fill="#7bccc4" /><polygon points="245.0,335.5 250.0,336.5 254.5,340.0 253.0,343.0 248.0,343.0 244.0,341.0" fill="#a8ddb5" /><polygon points="232.5,327.0 237.0,325.0 242.0,324.0 246.5,324.5 251.0,325.0 254.5,327.0 255.5,331.5 250.5,333.0 247.0,331.0 243.2,330.5 241.0,331.5 240.5,334.0 242.5,337.2 241.2,340.5 237.2,340.0 234.2,336.5 232.5,332.2" fill="#2b8cbe" /><polygon points="234.0,328.0 237.0,326.0 242.0,325.0 246.0,325.0 250.0,326.0 253.0,327.5 254.0,331.0 250.0,332.0 247.0,330.0 243.0,329.5 240.0,330.5 239.5,334.0 241.5,337.0 240.5,339.5 237.5,339.0 235.0,336.0 233.5,332.0" fill="#0868ac" /><polygon points="248.0,343.5 254.0,342.5 259.0,344.0 258.0,346.5 250.0,346.0" fill="#cccccc" /><polygon points="253.0,343.0 258.5,343.5 259.5,345.5 254.5,345.8" fill="#e0f3db" /><polygon points="261.5,346.5 263.5,346.0 264.0,349.5 262.0,349.5" fill="#2b8cbe" /><polygon points="265.0,323.0 269.0,320.0 272.0,325.0 275.0,330.0 278.0,335.0 279.0,339.0 276.0,343.0 273.0,340.0 270.0,334.0 267.0,328.0" fill="#e0f3db" /><polygon points="267.0,324.0 269.5,322.0 272.0,326.5 274.5,331.5 277.0,336.0 276.0,340.0 273.5,338.0 271.0,332.5 268.5,327.5" fill="#cccccc" /><polygon points="269.5,317.0 273.0,314.5 277.0,312.0 280.0,310.5 280.0,336.5 278.5,334.0 276.0,330.0 273.0,325.0 270.5,321.0" fill="#0868ac" /><polygon points="271.0,318.0 274.0,319.0 274.5,322.0 271.5,321.5" fill="#cccccc" /><polygon points="272.0,323.0 274.5,322.5 277.0,327.0 279.0,331.5 280.0,334.0 280.0,336.5 278.5,334.0 276.0,330.0 273.5,326.0" fill="#7bccc4" /><polygon points="222.0,349.5 226.0,348.8 226.2,351.2 222.2,351.6" fill="#0868ac" /><polygon points="223.8,349.2 225.0,349.0 225.0,349.8 223.8,350.0" fill="#ffee00" /><polygon points="220.0,357.0 223.0,357.0 223.0,362.0 220.0,362.0" fill="#a8ddb5" /><polygon points="235.0,359.0 239.0,359.0 239.0,361.0 235.0,361.0" fill="#e0f3db" /><polygon points="224.0,353.0 230.0,352.0 234.0,354.0 230.0,356.0 225.0,355.5" fill="#e0f3db" /><polygon points="244.0,354.5 250.0,356.2 256.0,357.2 262.0,356.2 264.0,358.0 258.0,359.2 250.0,358.5 245.0,357.0" fill="#e0f3db" /></g><g clip-path="url(#t22)" shape-rendering="crispEdges"><rect x="335" y="195" width="60" height="60" fill="#cccccc"/><polygon points="342.0,229.0 346.0,227.0 353.0,232.0 358.0,233.0 363.0,235.0 364.0,240.0 362.0,245.0 363.0,249.5 360.0,255.0 345.0,255.0 346.0,249.0 348.0,243.0 347.0,237.0 343.0,234.0" fill="#e0f3db" /><polygon points="349.0,239.0 355.0,238.0 359.0,242.0 355.0,245.0 350.0,244.0" fill="#cccccc" /><polygon points="347.0,251.0 351.0,250.0 352.0,255.0 347.0,255.0" fill="#cccccc" /><polygon points="342.5,229.5 346.0,228.0 348.0,231.0 345.0,233.0" fill="#a8ddb5" /><polygon points="353.0,240.0 357.0,239.0 357.5,244.0 353.5,245.0" fill="#a8ddb5" /><polygon points="364.0,239.0 368.0,239.5 368.5,247.0 364.5,247.5" fill="#e0f3db" /><polygon points="378.0,245.0 382.0,244.5 387.0,250.0 392.0,254.0 395.0,255.0 387.0,255.0 382.0,251.0" fill="#a8ddb5" /><polygon points="350.0,210.0 355.0,212.5 360.0,216.5 365.0,220.0 369.0,224.0 372.0,226.0 375.0,228.0 376.0,231.0 373.0,234.5 368.0,231.0 361.0,225.0 355.0,220.0 350.0,216.5" fill="#e0f3db" /><polygon points="358.0,217.5 360.0,216.5 365.0,220.0 369.0,224.0 375.0,228.0 375.5,230.0 372.0,229.0 367.0,226.0 362.0,222.0" fill="#7bccc4" /><polygon points="354.0,216.5 359.0,220.0 365.0,225.0 370.0,229.5 368.0,230.5 362.0,225.5 356.0,220.5" fill="#cccccc" /><polygon points="335.0,203.0 339.0,206.0 343.0,208.0 347.0,209.0 351.0,212.0 355.0,216.0 358.0,221.0 361.0,226.0 363.0,230.0 362.0,232.5 358.0,233.0 353.0,232.0 350.0,229.0 346.0,227.0 344.0,224.0 342.0,220.0 341.0,215.0 339.0,211.0 336.0,207.0" fill="#0868ac" /><polygon points="335.0,201.0 340.0,205.0 345.0,208.0 350.0,210.0 350.0,216.5 347.0,215.0 341.0,212.5 335.0,211.0" fill="#0868ac" /><polygon points="345.0,218.0 350.0,220.0 354.0,224.0 356.0,228.0 352.0,228.0 348.0,225.0 345.5,222.0" fill="#2b8cbe" /><polygon points="338.0,206.0 342.0,208.0 346.0,210.0 345.0,212.5 341.0,211.0 337.0,209.0" fill="#2b8cbe" /><polygon points="352.0,224.0 355.0,224.0 355.0,226.0 352.0,226.0" fill="#7bccc4" /><polygon points="359.0,229.0 361.5,228.5 362.0,231.5 359.5,232.0" fill="#7bccc4" /><polygon points="341.0,228.0 345.0,227.5 344.5,230.0 341.5,230.2" fill="#a8ddb5" /><polygon points="374.0,228.0 377.0,228.5 377.5,230.0 374.5,230.2" fill="#111111" /></g><g clip-path="url(#t23)" shape-rendering="crispEdges"><rect x="335" y="280" width="60" height="60" fill="#cccccc"/><polygon points="335.0,298.0 339.0,296.0 343.0,292.0 345.0,295.0 349.0,298.0 355.0,297.0 358.0,290.0 363.0,286.0 365.0,280.0 395.0,280.0 395.0,340.0 335.0,340.0" fill="#e0f3db" /><polygon points="335.0,301.0 341.0,300.0 347.0,301.5 352.0,304.0 355.0,309.0 352.0,313.0 346.0,314.5 340.0,313.5 335.0,313.5" fill="#cccccc" /><polygon points="341.0,304.0 345.0,303.5 347.0,307.0 343.0,308.0" fill="#e0f3db" /><polygon points="348.0,309.0 351.0,308.5 351.5,311.5 348.5,311.8" fill="#e0f3db" /><polygon points="369.0,286.0 374.0,285.0 375.0,289.0 370.0,290.0" fill="#cccccc" /><polygon points="383.0,282.0 388.0,281.0 391.0,286.0 387.0,289.0 384.0,286.0" fill="#cccccc" /><polygon points="375.0,280.0 381.0,280.0 380.0,283.0 376.0,282.5" fill="#cccccc" /><polygon points="335.0,315.0 341.0,314.5 347.0,315.0 352.0,313.5 356.0,309.0 356.5,303.0 360.0,299.0 364.0,292.0 368.0,288.0 375.0,290.0 380.0,288.0 385.0,290.0 391.0,288.0 395.0,289.0 395.0,340.0 335.0,340.0" fill="#a8ddb5" /><polygon points="335.0,320.0 339.0,319.0 345.0,319.5 350.0,317.2 354.0,320.2 356.5,313.0 358.5,306.0 362.0,301.0 365.0,295.0 369.0,293.0 375.0,295.0 379.0,293.0 383.0,294.0 387.0,293.0 391.0,295.0 395.0,294.0 395.0,340.0 335.0,340.0" fill="#7bccc4" /><polygon points="369.0,303.0 377.0,302.0 382.0,305.0 381.0,308.0 374.0,307.5 369.5,306.0" fill="#e0f3db" /><polygon points="368.0,301.5 378.0,300.5 383.5,305.0 382.0,309.5 373.5,309.0 368.5,307.0" fill="#a8ddb5" /><polygon points="369.5,303.5 377.0,302.5 381.5,305.2 380.5,307.8 374.0,307.2 370.0,305.8" fill="#e0f3db" /><polygon points="335.0,327.0 341.0,326.0 347.0,327.0 353.0,325.0 358.0,320.0 359.0,313.0 360.5,307.0 364.0,303.0 368.0,305.0 371.0,309.0 375.0,313.0 379.0,310.0 383.0,303.0 387.0,300.0 391.0,302.0 395.0,304.0 395.0,340.0 335.0,340.0" fill="#2b8cbe" /><polygon points="383.0,318.0 389.0,317.0 391.0,322.0 389.0,326.0 384.0,326.0" fill="#a8ddb5" /><polygon points="385.0,312.0 390.0,312.0 390.0,316.0 385.0,316.0" fill="#e0f3db" /><polygon points="378.0,314.0 382.0,311.0 391.0,310.5 393.0,316.0 392.0,324.0 389.0,328.0 383.0,328.0 379.0,324.0" fill="#7bccc4" /><polygon points="383.5,318.5 388.8,317.6 390.5,322.0 388.7,325.5 384.2,325.5" fill="#a8ddb5" /><polygon points="385.0,312.2 389.8,312.2 389.8,315.8 385.0,315.8" fill="#e0f3db" /><polygon points="358.5,327.0 362.0,324.0 365.0,328.0 364.0,334.0 360.0,335.0 358.5,331.0" fill="#a8ddb5" /><polygon points="337.0,330.0 340.0,329.5 340.0,333.0 337.0,333.0" fill="#a8ddb5" /><polygon points="357.5,326.5 362.2,323.0 366.0,327.8 364.8,334.8 359.8,336.0 357.5,331.5" fill="#7bccc4" /><polygon points="358.8,327.5 362.0,324.8 364.7,328.2 363.7,333.5 360.2,334.5 358.8,331.0" fill="#a8ddb5" /><polygon points="360.2,305.5 364.0,306.2 368.0,309.2 371.2,313.2 373.0,317.2 366.2,318.2 363.2,320.2 361.2,318.0 360.0,313.0" fill="#0868ac" /><polygon points="335.0,336.0 341.0,334.0 347.0,333.0 353.0,331.0 359.0,324.0 363.2,320.2 366.2,318.2 369.0,322.0 371.0,327.0 375.0,332.0 379.0,330.0 383.0,327.0 387.0,325.0 391.0,324.0 395.0,323.0 395.0,340.0 335.0,340.0" fill="#0868ac" /><polygon points="357.5,326.5 361.2,323.5 365.0,327.0 364.8,334.8 359.8,336.0 357.5,331.5" fill="#7bccc4" /><polygon points="358.8,327.5 361.8,325.2 364.2,328.2 363.7,333.5 360.2,334.5 358.8,331.0" fill="#a8ddb5" /><polygon points="389.0,303.5 395.0,302.5 395.0,310.0 391.0,309.8 387.0,310.0 385.0,309.0 386.0,306.0" fill="#0868ac" /><polygon points="365.0,338.0 369.0,336.5 375.0,337.0 381.0,336.0 387.0,333.0 392.0,331.0 395.0,330.5 395.0,340.0 365.0,340.0" fill="#ffee00" /><polygon points="391.0,338.0 395.0,337.0 395.0,340.0 390.0,340.0" fill="#ffee88" /></g></g><polyline points="326.0,122.0 330.0,132.0 332.0,142.0 338.0,150.0 344.0,156.0 352.0,166.0 360.0,176.0 366.0,182.0 371.0,188.0 374.0,196.0 373.6,204.0 376.0,212.0 379.0,220.0 380.0,226.0 384.0,230.0 392.0,231.0 400.0,229.0 408.0,226.0 416.0,225.0 424.0,225.0 430.0,223.0 436.0,220.0 444.0,218.0 450.0,214.0 458.0,211.0 468.0,208.0 479.0,205.0" fill="none" stroke="#e4e4e4" stroke-width="0.7" stroke-linejoin="round" stroke-linecap="round" /><polygon points="336.7,409.3 339.3,410.0 338.7,414.0 336.0,414.7" fill="#fff" stroke="#111" stroke-width="0.8"/><polygon points="331.3,418.7 334.0,418.0 336.0,421.3 334.7,424.7 332.0,423.3" fill="#fff" stroke="#111" stroke-width="0.8"/><polygon points="337.3,437.3 339.3,436.7 338.7,440.7 336.7,441.3" fill="#fff" stroke="#111" stroke-width="0.8"/><rect x="317.6" y="167.4" width="1.0" height="1.2" fill="#111"/><rect x="319.8" y="167.6" width="1.4" height="0.8" fill="#111"/><rect x="323.7" y="166.8" width="1.4" height="0.8" fill="#111"/><rect x="317.2" y="168.7" width="1.4" height="1.2" fill="#111"/><rect x="319.8" y="168.1" width="0.8" height="0.8" fill="#111"/><rect x="321.2" y="169.9" width="1.4" height="1.0" fill="#111"/><rect x="322.2" y="168.4" width="0.8" height="0.8" fill="#111"/><rect x="322.3" y="167.7" width="1.0" height="0.8" fill="#111"/><rect x="322.9" y="165.2" width="1.4" height="1.2" fill="#111"/><rect x="323.8" y="166.1" width="1.0" height="1.0" fill="#111"/><rect x="322.1" y="167.6" width="0.8" height="1.0" fill="#111"/><rect x="316.4" y="164.1" width="0.8" height="1.0" fill="#111"/><rect x="324.2" y="166.5" width="1.4" height="1.0" fill="#111"/><rect x="319.3" y="169.7" width="1.4" height="1.0" fill="#111"/><rect x="320.3" y="166.3" width="0.8" height="1.0" fill="#111"/><rect x="321.6" y="170.4" width="1.0" height="1.2" fill="#111"/><rect x="343.1" y="195.0" width="1.0" height="1.2" fill="#111"/><rect x="345.9" y="198.6" width="1.4" height="1.2" fill="#111"/><rect x="337.5" y="201.0" width="1.4" height="1.0" fill="#111"/><rect x="338.4" y="194.1" width="1.4" height="1.0" fill="#111"/><rect x="336.1" y="200.7" width="1.0" height="0.8" fill="#111"/><rect x="335.2" y="197.3" width="1.0" height="0.8" fill="#111"/><rect x="335.5" y="199.0" width="0.8" height="1.0" fill="#111"/><rect x="343.6" y="196.5" width="1.0" height="1.2" fill="#111"/><rect x="337.8" y="193.8" width="0.8" height="0.8" fill="#111"/><rect x="336.3" y="198.3" width="0.8" height="1.0" fill="#111"/><rect x="338.5" y="195.9" width="1.4" height="0.8" fill="#111"/><rect x="346.8" y="196.6" width="1.0" height="0.8" fill="#111"/><rect x="345.8" y="196.9" width="1.0" height="1.2" fill="#111"/><rect x="339.6" y="201.3" width="1.4" height="1.2" fill="#111"/><rect x="336.2" y="202.3" width="1.4" height="1.0" fill="#111"/><rect x="340.2" y="200.0" width="0.8" height="1.0" fill="#111"/><rect x="340.2" y="195.8" width="1.0" height="1.2" fill="#111"/><rect x="339.1" y="200.6" width="1.4" height="1.0" fill="#111"/><rect x="335.2" y="199.0" width="1.4" height="0.8" fill="#111"/><rect x="335.7" y="199.1" width="1.0" height="1.0" fill="#111"/><rect x="343.2" y="196.7" width="1.4" height="1.0" fill="#111"/><rect x="343.9" y="193.7" width="0.8" height="1.2" fill="#111"/><rect x="335.3" y="196.8" width="1.4" height="1.0" fill="#111"/><rect x="338.6" y="198.9" width="0.8" height="1.0" fill="#111"/><rect x="337.2" y="200.3" width="1.4" height="1.0" fill="#111"/><rect x="338.6" y="196.9" width="0.8" height="1.2" fill="#111"/><rect x="343.2" y="194.7" width="1.4" height="0.8" fill="#111"/><rect x="342.8" y="195.9" width="1.0" height="0.8" fill="#111"/><rect x="343.1" y="199.3" width="0.8" height="0.8" fill="#111"/><rect x="342.2" y="202.0" width="1.4" height="0.8" fill="#111"/><rect x="340.3" y="201.2" width="0.8" height="0.8" fill="#111"/><rect x="339.0" y="199.4" width="1.4" height="1.0" fill="#111"/><rect x="338.2" y="200.6" width="0.8" height="1.2" fill="#111"/><rect x="346.5" y="196.3" width="1.4" height="0.8" fill="#111"/><rect x="345.4" y="196.6" width="1.4" height="0.8" fill="#111"/><rect x="344.7" y="196.6" width="0.8" height="1.0" fill="#111"/><rect x="338.5" y="200.6" width="1.0" height="1.0" fill="#111"/><rect x="339.2" y="197.3" width="1.0" height="1.2" fill="#111"/><rect x="339.9" y="201.8" width="0.8" height="0.8" fill="#111"/><rect x="335.1" y="202.0" width="1.4" height="1.2" fill="#111"/><rect x="344.5" y="203.7" width="1.4" height="0.8" fill="#111"/><rect x="341.7" y="200.7" width="1.4" height="1.2" fill="#111"/><rect x="345.1" y="199.7" width="1.0" height="0.8" fill="#111"/><rect x="347.5" y="203.1" width="1.0" height="0.8" fill="#111"/><rect x="347.2" y="198.3" width="1.4" height="1.2" fill="#111"/><rect x="348.0" y="203.4" width="1.0" height="1.2" fill="#111"/><rect x="341.8" y="200.9" width="0.8" height="0.8" fill="#111"/><rect x="345.0" y="199.4" width="0.8" height="1.2" fill="#111"/><rect x="345.3" y="198.3" width="1.4" height="0.8" fill="#111"/><rect x="343.9" y="199.5" width="1.4" height="1.0" fill="#111"/><rect x="347.2" y="198.4" width="0.8" height="0.8" fill="#111"/><rect x="342.4" y="203.3" width="0.8" height="0.8" fill="#111"/><rect x="343.2" y="199.6" width="0.8" height="0.8" fill="#111"/><rect x="344.9" y="201.4" width="1.0" height="0.8" fill="#111"/><rect x="346.8" y="199.5" width="1.4" height="1.2" fill="#111"/><rect x="345.1" y="198.3" width="1.0" height="0.8" fill="#111"/><rect x="347.5" y="202.7" width="0.8" height="0.8" fill="#111"/><rect x="341.8" y="200.9" width="0.8" height="1.2" fill="#111"/><rect x="342.1" y="201.0" width="1.0" height="0.8" fill="#111"/><rect x="343.7" y="200.1" width="1.4" height="1.0" fill="#111"/><rect x="345.6" y="200.2" width="0.8" height="1.0" fill="#111"/><rect x="344.5" y="198.8" width="0.8" height="1.2" fill="#111"/><rect x="338.6" y="195.5" width="1.4" height="0.8" fill="#111"/><rect x="333.8" y="193.8" width="1.4" height="1.2" fill="#111"/><rect x="336.2" y="195.5" width="1.4" height="1.0" fill="#111"/><rect x="333.9" y="194.6" width="1.4" height="1.0" fill="#111"/><rect x="336.4" y="195.0" width="1.0" height="0.8" fill="#111"/><rect x="335.2" y="194.2" width="1.4" height="1.2" fill="#111"/><rect x="334.0" y="193.6" width="1.0" height="0.8" fill="#111"/><rect x="339.7" y="196.2" width="1.0" height="1.2" fill="#111"/><rect x="339.0" y="192.8" width="1.0" height="1.2" fill="#111"/><rect x="334.4" y="195.6" width="1.4" height="1.2" fill="#111"/><rect x="339.0" y="194.8" width="1.4" height="1.0" fill="#111"/><rect x="337.4" y="192.0" width="1.4" height="1.2" fill="#111"/><rect x="333.5" y="192.2" width="1.0" height="0.8" fill="#111"/><rect x="337.2" y="194.3" width="1.4" height="1.0" fill="#111"/><polygon points="341.5,198.0 344.0,197.0 346.5,198.0 348.0,200.5 346.0,202.5 343.5,202.0 342.0,200.5" fill="#111" /><polyline points="267.5,359.0 264.0,357.0 258.0,357.0 250.0,358.0 244.0,360.0 241.5,364.0 240.5,370.0 240.0,384.0 244.0,385.3 253.3,384.7 258.7,381.3 262.7,378.7 265.3,374.7 266.7,370.7 267.3,365.0" fill="none" stroke="#b9b9b9" stroke-width="0.6" stroke-linejoin="round" stroke-linecap="round" /><polyline points="205.0,388.0 206.0,396.0 208.3,407.0 209.0,412.3 210.3,418.3 213.0,423.7 216.3,428.3 220.3,432.3 224.0,438.0" fill="none" stroke="#e6e6e6" stroke-width="0.7" stroke-linejoin="round" stroke-linecap="round" /><polyline points="150.0,272.5 151.5,270.5 153.5,269.0 155.0,266.0 156.5,262.0 158.0,259.0 160.0,256.5 163.0,255.5 170.0,254.5 172.0,257.5 174.0,260.5 176.0,263.0 180.0,264.0 184.0,263.0 186.0,262.5 190.0,263.0 196.0,265.0 200.0,266.0 204.7,265.3 209.3,262.0 213.3,260.7 217.3,258.0 222.0,257.3 226.7,259.3 230.0,262.0 235.3,261.3 238.7,258.7 242.7,253.3 246.7,250.0 248.7,246.7 248.0,240.7 246.7,239.3 253.3,238.7 254.0,236.3 259.3,236.3 258.7,242.7 260.0,250.7 264.0,254.7 268.0,258.7 268.7,264.0 269.6,265.6" fill="none" stroke="#151515" stroke-width="1.05" stroke-linejoin="round" stroke-linecap="round" /><polyline points="269.6,265.6 270.0,268.0 269.3,272.7 266.7,274.0 260.7,274.9 257.3,278.7 256.0,280.0 256.0,280.0 260.0,282.0 265.3,283.3 269.3,286.7 272.0,290.0 276.0,292.7 280.0,294.7 280.0,296.0 281.3,301.3 284.0,305.3" fill="none" stroke="#151515" stroke-width="1.05" stroke-linejoin="round" stroke-linecap="round" /><polyline points="269.6,265.6 269.3,264.0 272.0,258.7 272.7,253.3 276.0,250.0 280.0,247.3 280.0,245.3 282.7,240.0 286.7,236.0 293.3,232.0 297.3,222.7 299.3,213.3 300.0,205.3 301.3,200.0 302.0,202.7 303.3,193.3 305.3,186.0 310.7,183.3 316.0,181.3 320.0,180.0 321.6,177.6" fill="none" stroke="#151515" stroke-width="1.05" stroke-linejoin="round" stroke-linecap="round" /><polyline points="300.0,214.7 304.7,213.3 308.7,212.0 311.3,214.0 315.3,208.7 318.7,211.3 324.0,212.7 329.3,211.3 334.7,212.7 340.0,212.0 344.0,213.3 349.3,216.0 354.7,218.7 360.0,220.7 360.0,223.3 364.0,226.7 368.0,230.7 370.0,233.3 373.3,234.7 376.7,230.7" fill="none" stroke="#151515" stroke-width="1.05" stroke-linejoin="round" stroke-linecap="round" /><polyline points="370.0,233.3 366.7,238.7 363.3,244.0 362.7,248.7 368.0,249.3 374.0,249.1 377.3,246.0 380.0,244.7" fill="none" stroke="#151515" stroke-width="1.05" stroke-linejoin="round" stroke-linecap="round" /><polyline points="374.0,249.1 373.3,252.7 377.3,258.7 382.0,264.0 386.7,268.0 393.3,271.3 402.7,274.0 413.3,276.7 422.7,278.7 432.0,279.3 437.3,279.3 440.0,280.0 434.7,282.7 429.3,288.0 424.0,293.3 418.7,298.0 413.3,302.0 408.0,306.0 402.7,310.0 400.0,310.9 393.3,310.4 386.7,310.9 381.3,312.7 376.0,315.3 372.0,317.3 365.3,318.7 363.3,319.3 361.3,322.0 360.0,323.3 360.0,325.3 356.0,328.0 352.7,331.3 352.7,360.0 352.7,360.0 352.7,368.0 356.0,372.0 360.0,375.3" fill="none" stroke="#151515" stroke-width="1.05" stroke-linejoin="round" stroke-linecap="round" /><polyline points="280.0,307.3 284.0,305.3 289.3,305.3 290.7,312.0 293.3,314.7 298.7,315.3 304.0,315.3 309.3,318.7 314.7,321.3 320.0,323.3 326.7,324.0 332.0,324.7 334.7,326.7 338.7,321.3 344.0,319.3 349.3,317.3 352.7,318.7 354.7,320.0 360.0,320.0 360.0,320.0 363.3,319.3" fill="none" stroke="#151515" stroke-width="1.05" stroke-linejoin="round" stroke-linecap="round" /><polyline points="280.0,313.3 290.7,312.7" fill="none" stroke="#151515" stroke-width="1.05" stroke-linejoin="round" stroke-linecap="round" /><polyline points="232.0,323.3 236.0,322.0 240.0,322.7 242.7,321.3 246.0,324.0 249.3,322.0 253.3,322.7 258.7,322.0 262.7,320.7 266.7,318.0 269.3,316.7 272.7,314.0 276.7,312.0 280.0,308.7 280.0,307.3" fill="none" stroke="#151515" stroke-width="1.05" stroke-linejoin="round" stroke-linecap="round" /><polyline points="269.3,316.7 270.7,321.3 272.7,325.3 274.7,329.3 277.3,333.3 279.3,337.3 280.0,340.0 278.0,345.3 274.7,349.3 271.3,354.0 268.7,358.7 268.0,360.0 267.3,360.0 267.3,370.0" fill="none" stroke="#151515" stroke-width="1.05" stroke-linejoin="round" stroke-linecap="round" /><polyline points="216.0,373.3 220.0,374.0 224.7,370.7 228.0,370.0 267.3,370.0 272.0,372.0 280.0,375.3 280.0,375.3 288.0,379.3 296.0,383.3 304.0,387.3 311.3,390.7 312.7,394.0 317.3,398.0 322.7,402.0 328.0,405.3 331.3,406.7" fill="none" stroke="#151515" stroke-width="1.05" stroke-linejoin="round" stroke-linecap="round" /><polyline points="224.7,370.7 227.3,373.3 228.7,377.3 230.0,381.3 228.7,384.0 225.3,384.7 220.0,384.0 218.7,386.0 213.3,387.3 208.7,386.7 207.3,386.7" fill="none" stroke="#151515" stroke-width="1.05" stroke-linejoin="round" stroke-linecap="round" /><polyline points="225.3,384.7 226.0,388.7 229.3,391.3 227.3,394.0 224.0,397.3 220.0,401.3 217.3,403.3 212.7,404.4" fill="none" stroke="#151515" stroke-width="1.05" stroke-linejoin="round" stroke-linecap="round" /><polyline points="159.3,133.4 258.7,133.4 262.7,136.3 268.0,135.7 270.0,131.3 276.0,129.6 278.7,124.7 284.0,122.7 287.3,121.0" fill="none" stroke="#555" stroke-width="0.8" stroke-linejoin="round" stroke-linecap="round" /><polyline points="346.0,464.7 342.7,466.7 338.7,468.7 334.7,470.7 330.7,472.7 325.3,474.0 320.0,474.7 313.3,476.7 306.7,478.0 300.0,478.7 294.7,478.7 288.0,478.7 278.0,478.7 277.0,474.0 275.0,469.0 273.0,462.0 268.0,456.0 260.0,455.0 248.0,452.0 240.0,449.0 236.0,448.0 232.0,446.0 228.0,440.0 226.0,436.0 223.3,432.0 220.7,428.0 218.7,424.0 216.7,420.0 215.3,416.0 213.3,410.7 212.7,404.0" fill="none" stroke="#555" stroke-width="0.8" stroke-linejoin="round" stroke-linecap="round" /><polyline points="150.0,272.5 145.0,271.5 141.0,271.5 141.5,269.5 140.5,268.0 142.5,265.0 143.0,262.0 142.0,259.0 140.0,256.0 137.0,253.0 134.5,250.0 134.7,249.3 132.0,244.0 129.3,240.0 130.0,236.7 128.0,233.3 125.3,232.0 121.3,231.3 122.0,228.7 126.7,224.7 124.7,222.7 125.3,220.0 129.3,216.0 128.0,213.3 130.0,210.0 134.0,206.7 134.7,204.0 136.7,200.7 147.3,200.3 147.3,155.1 159.3,155.1 159.3,133.4" fill="none" stroke="#555" stroke-width="0.8" stroke-linejoin="round" stroke-linecap="round" /><polyline points="287.3,121.0 290.0,124.0 293.3,126.7 297.3,129.3 301.3,132.7 304.0,137.3 306.0,141.3 308.0,143.3 307.3,146.7 308.0,152.0 308.7,157.3 310.0,162.7 311.3,166.7 314.0,170.0 318.7,173.3 322.0,176.7 325.3,180.7 328.0,185.3 330.0,190.7 331.3,196.0 332.7,200.0 335.3,201.3 338.7,205.3 342.7,208.0 348.0,210.0 353.3,212.7 357.3,214.7 360.0,216.7 363.3,218.7 366.7,221.3 370.0,225.3 373.3,227.3 376.7,230.0 379.3,233.3 381.3,236.7 380.7,239.3 376.7,241.3 372.7,242.7 373.3,244.0 377.3,243.3 381.3,244.0 382.7,246.0 385.3,248.7 388.7,251.3 392.0,254.0 396.0,255.0 400.0,254.7 404.0,252.0 409.3,250.4 414.7,251.3 420.0,251.3 424.0,248.7 428.0,246.7 432.0,247.3 437.3,247.3 442.7,246.0 446.7,246.0 453.3,245.3 458.7,244.0 463.3,242.7 466.7,241.3 469.3,239.3 472.7,238.9 476.7,240.0 477.3,242.7 476.0,246.7 475.3,251.3 476.7,254.0 478.7,254.7 476.0,255.3 474.0,256.0 473.3,260.0 472.7,264.0 470.7,267.3 468.0,270.7 465.3,274.7 462.7,278.0 460.7,280.0 458.7,284.0 454.7,288.0 451.3,293.3 450.7,297.3 448.0,301.3 447.0,303.0 444.0,307.0 440.0,312.0 435.0,317.0 430.0,321.5 425.0,326.0 420.0,330.0 415.0,333.5 410.0,337.0 405.0,339.5 400.0,342.5 395.0,345.5 390.0,348.5 386.7,352.0 381.3,356.0 377.3,359.5 375.0,361.0 360.0,374.7 356.0,378.0 352.7,380.0 350.0,382.0 349.3,384.7 345.3,387.3 342.7,391.3 340.7,394.7 338.7,398.7 336.0,402.7 332.7,406.7 330.7,411.3 328.7,416.0 326.7,420.0 327.3,424.0 330.0,427.3 332.7,430.7 334.0,434.7 333.3,438.7 332.7,442.7 333.3,446.7 334.7,451.3 336.7,455.3 339.3,458.7 341.3,461.3 344.0,463.3 346.0,464.7" fill="none" stroke="#151515" stroke-width="1.05" stroke-linejoin="round" stroke-linecap="round" /><polyline points="212.7,404.0 212.0,400.0 211.3,396.0 210.0,392.0 208.7,388.7 207.3,386.7 206.0,384.7 208.0,382.7 209.3,380.0 210.0,376.7 212.7,374.7 216.0,373.3 215.3,368.0 215.7,364.0 216.7,360.0 218.7,356.0 220.0,352.7 223.3,348.7 228.0,345.3 232.0,342.0 236.0,338.7 232.0,336.7 228.7,334.7 229.3,330.7 230.0,326.7 232.0,323.3 228.0,322.7 223.3,320.0 220.0,316.7 216.7,313.3 213.3,314.0 210.7,316.7 208.0,315.3 204.0,314.7 200.0,316.0 197.3,314.7 194.0,313.3 190.7,310.0 188.5,307.5 186.0,304.0 183.0,301.0 179.0,299.0 176.5,297.0 174.5,294.0 172.0,291.0 169.0,288.5 165.0,286.0 161.5,284.5 162.0,282.0 159.0,280.0 155.0,277.0 151.5,276.5 149.5,275.0 150.0,272.5" fill="none" stroke="#151515" stroke-width="1.0" stroke-linejoin="round" stroke-linecap="round" /></g>
<rect x="357" y="467" width="29" height="9" fill="#cccccc"/>
<rect x="119.8" y="119.9" width="359.9" height="359.8" fill="none" stroke="#8a8a8a" stroke-width="1.5"/>
<line x1="111.5" y1="154.5" x2="120" y2="154.5" stroke="#666" stroke-width="1"/>
<line x1="111.5" y1="207.5" x2="120" y2="207.5" stroke="#666" stroke-width="1"/>
<line x1="111.5" y1="259" x2="120" y2="259" stroke="#666" stroke-width="1"/>
<line x1="111.5" y1="310" x2="120" y2="310" stroke="#666" stroke-width="1"/>
<line x1="111.5" y1="360" x2="120" y2="360" stroke="#666" stroke-width="1"/>
<line x1="111.5" y1="410.5" x2="120" y2="410.5" stroke="#666" stroke-width="1"/>
<line x1="111.5" y1="461" x2="120" y2="461" stroke="#666" stroke-width="1"/>
<line x1="159.3" y1="480" x2="159.3" y2="488.5" stroke="#5a5a5a" stroke-width="0.9"/>
<line x1="219.75" y1="480" x2="219.75" y2="488.5" stroke="#5a5a5a" stroke-width="0.9"/>
<line x1="280.2" y1="480" x2="280.2" y2="488.5" stroke="#5a5a5a" stroke-width="0.9"/>
<line x1="340.65" y1="480" x2="340.65" y2="488.5" stroke="#5a5a5a" stroke-width="0.9"/>
<line x1="401.1" y1="480" x2="401.1" y2="488.5" stroke="#5a5a5a" stroke-width="0.9"/>
<line x1="461.55" y1="480" x2="461.55" y2="488.5" stroke="#5a5a5a" stroke-width="0.9"/>
<rect x="486" y="146.50" width="20" height="7.28" fill="#7f0000" shape-rendering="crispEdges"/><rect x="486" y="153.18" width="20" height="7.28" fill="#8f0000" shape-rendering="crispEdges"/><rect x="486" y="159.86" width="20" height="7.28" fill="#9f0000" shape-rendering="crispEdges"/><rect x="486" y="166.54" width="20" height="7.28" fill="#af0000" shape-rendering="crispEdges"/><rect x="486" y="173.21" width="20" height="7.28" fill="#bf0000" shape-rendering="crispEdges"/><rect x="486" y="179.89" width="20" height="7.28" fill="#d00000" shape-rendering="crispEdges"/><rect x="486" y="186.57" width="20" height="7.28" fill="#e10000" shape-rendering="crispEdges"/><rect x="486" y="193.25" width="20" height="7.28" fill="#f10000" shape-rendering="crispEdges"/><rect x="486" y="199.93" width="20" height="7.28" fill="#ff0300" shape-rendering="crispEdges"/><rect x="486" y="206.61" width="20" height="7.28" fill="#ff1200" shape-rendering="crispEdges"/><rect x="486" y="213.29" width="20" height="7.28" fill="#ff2200" shape-rendering="crispEdges"/><rect x="486" y="219.96" width="20" height="7.28" fill="#ff3100" shape-rendering="crispEdges"/><rect x="486" y="226.64" width="20" height="7.28" fill="#ff4100" shape-rendering="crispEdges"/><rect x="486" y="233.32" width="20" height="7.28" fill="#ff5000" shape-rendering="crispEdges"/>
<rect x="486" y="260.60" width="20" height="9.94" fill="#5a3410" shape-rendering="crispEdges"/><rect x="486" y="269.94" width="20" height="9.94" fill="#a86b22" shape-rendering="crispEdges"/><rect x="486" y="279.28" width="20" height="9.94" fill="#e08040" shape-rendering="crispEdges"/><rect x="486" y="288.62" width="20" height="9.94" fill="#e89040" shape-rendering="crispEdges"/><rect x="486" y="297.96" width="20" height="9.94" fill="#f0a850" shape-rendering="crispEdges"/><rect x="486" y="307.30" width="20" height="9.94" fill="#f5cf85" shape-rendering="crispEdges"/><rect x="486" y="316.64" width="20" height="9.94" fill="#ffee88" shape-rendering="crispEdges"/><rect x="486" y="325.98" width="20" height="9.94" fill="#ffee00" shape-rendering="crispEdges"/><rect x="486" y="335.32" width="20" height="9.94" fill="#d8e020" shape-rendering="crispEdges"/><rect x="486" y="344.66" width="20" height="9.94" fill="#a6d36a" shape-rendering="crispEdges"/>
<rect x="486" y="374.40" width="20" height="13.97" fill="#2b8cbe" shape-rendering="crispEdges"/><rect x="486" y="387.77" width="20" height="13.97" fill="#4eb3d3" shape-rendering="crispEdges"/><rect x="486" y="401.14" width="20" height="13.97" fill="#7bccc4" shape-rendering="crispEdges"/><rect x="486" y="414.51" width="20" height="13.97" fill="#a8ddb5" shape-rendering="crispEdges"/><rect x="486" y="427.89" width="20" height="13.97" fill="#ccebc5" shape-rendering="crispEdges"/><rect x="486" y="441.26" width="20" height="13.97" fill="#e0f3db" shape-rendering="crispEdges"/><rect x="486" y="454.63" width="20" height="13.97" fill="#f7fcf0" shape-rendering="crispEdges"/>
<line x1="495" y1="134" x2="515" y2="134" stroke="#ccc" stroke-width="0.6"/>
<line x1="495" y1="248.6" x2="515" y2="248.6" stroke="#ccc" stroke-width="0.6"/>
<line x1="495" y1="362.4" x2="515" y2="362.4" stroke="#ccc" stroke-width="0.6"/>
</svg>
<div style="position:absolute;white-space:pre;line-height:1;font-size:12px;right:496.5px;top:148.63px;">20°N</div>
<div style="position:absolute;white-space:pre;line-height:1;font-size:12px;right:496.5px;top:201.63px;">15°N</div>
<div style="position:absolute;white-space:pre;line-height:1;font-size:12px;right:496.5px;top:253.13px;">10°N</div>
<div style="position:absolute;white-space:pre;line-height:1;font-size:12px;right:496.5px;top:304.13px;">5°N</div>
<div style="position:absolute;white-space:pre;line-height:1;font-size:12px;right:496.5px;top:354.13px;">0°</div>
<div style="position:absolute;white-space:pre;line-height:1;font-size:12px;right:496.5px;top:404.63px;">5°S</div>
<div style="position:absolute;white-space:pre;line-height:1;font-size:12px;right:496.5px;top:455.13px;">10°S</div>
<div style="position:absolute;white-space:pre;line-height:1;font-size:12px;left:159px;transform:translateX(-50%);top:495.63px;">25°E</div>
<div style="position:absolute;white-space:pre;line-height:1;font-size:12px;left:219.5px;transform:translateX(-50%);top:495.63px;">30°E</div>
<div style="position:absolute;white-space:pre;line-height:1;font-size:12px;left:280px;transform:translateX(-50%);top:495.63px;">35°E</div>
<div style="position:absolute;white-space:pre;line-height:1;font-size:12px;left:340.5px;transform:translateX(-50%);top:495.63px;">40°E</div>
<div style="position:absolute;white-space:pre;line-height:1;font-size:12px;left:401px;transform:translateX(-50%);top:495.63px;">45°E</div>
<div style="position:absolute;white-space:pre;line-height:1;font-size:12px;left:461.5px;transform:translateX(-50%);top:495.63px;">50°E</div>
<div style="position:absolute;white-space:pre;line-height:1;font-size:12px;left:511.4px;top:154.13px;">53</div>
<div style="position:absolute;white-space:pre;line-height:1;font-size:12px;left:511.4px;top:174.13px;">50</div>
<div style="position:absolute;white-space:pre;line-height:1;font-size:12px;left:511.4px;top:194.13px;">47</div>
<div style="position:absolute;white-space:pre;line-height:1;font-size:12px;left:511.4px;top:214.73px;">44</div>
<div style="position:absolute;white-space:pre;line-height:1;font-size:12px;left:511.4px;top:273.53px;">40</div>
<div style="position:absolute;white-space:pre;line-height:1;font-size:12px;left:511.4px;top:292.13px;">38</div>
<div style="position:absolute;white-space:pre;line-height:1;font-size:12px;left:511.4px;top:311.13px;">36</div>
<div style="position:absolute;white-space:pre;line-height:1;font-size:12px;left:511.4px;top:329.73px;">34</div>
<div style="position:absolute;white-space:pre;line-height:1;font-size:12px;left:511.4px;top:381.73px;">32</div>
<div style="position:absolute;white-space:pre;line-height:1;font-size:12px;left:511.4px;top:408.73px;">30</div>
<div style="position:absolute;white-space:pre;line-height:1;font-size:12px;left:511.4px;top:435.53px;">28</div>
<div style="position:absolute;white-space:pre;line-height:1;font-size:12.5px;left:394.8px;top:465.62px;">No heat stress</div>
<div style="position:absolute;white-space:pre;line-height:1;font-size:16.4px;font-weight:bold;left:299.7px;transform:translateX(-50%);top:81.88px;">Heat Stress Index : 2023-12-05</div>
<div style="position:absolute;white-space:pre;line-height:1;font-size:10.3px;font-weight:bold;left:122px;top:508.95px;">KEY</div>
<div style="position:absolute;white-space:pre;line-height:1;font-size:10.3px;font-weight:bold;left:122px;top:523.95px;">Caution</div>
<div style="position:absolute;white-space:pre;line-height:1;font-size:10.3px;font-weight:bold;left:206px;top:523.95px;">: Heat fatigue with prolonged exposure</div>
<div style="position:absolute;white-space:pre;line-height:1;font-size:10.3px;font-weight:bold;left:122px;top:538.95px;">Extreme Caution</div>
<div style="position:absolute;white-space:pre;line-height:1;font-size:10.3px;font-weight:bold;left:210px;top:538.95px;">: Heat exhaustion</div>
<div style="position:absolute;white-space:pre;line-height:1;font-size:10.3px;font-weight:bold;left:122px;top:553.95px;">Danger</div>
<div style="position:absolute;white-space:pre;line-height:1;font-size:10.3px;font-weight:bold;left:206px;top:553.95px;">: Heat exhaustion/ heat stroke probable</div>
<div style="position:absolute;white-space:pre;line-height:1;font-size:10.2px;font-weight:bold;left:533.5px;top:186.5px;transform:translate(-50%,-50%) rotate(-90deg);">Danger</div>
<div style="position:absolute;white-space:pre;line-height:1;font-size:10.2px;font-weight:bold;left:533.5px;top:300px;transform:translate(-50%,-50%) rotate(-90deg);">Extreme Caution</div>
<div style="position:absolute;white-space:pre;line-height:1;font-size:10.2px;font-weight:bold;left:533.5px;top:414.7px;transform:translate(-50%,-50%) rotate(-90deg);">Caution</div>
</body></html>
